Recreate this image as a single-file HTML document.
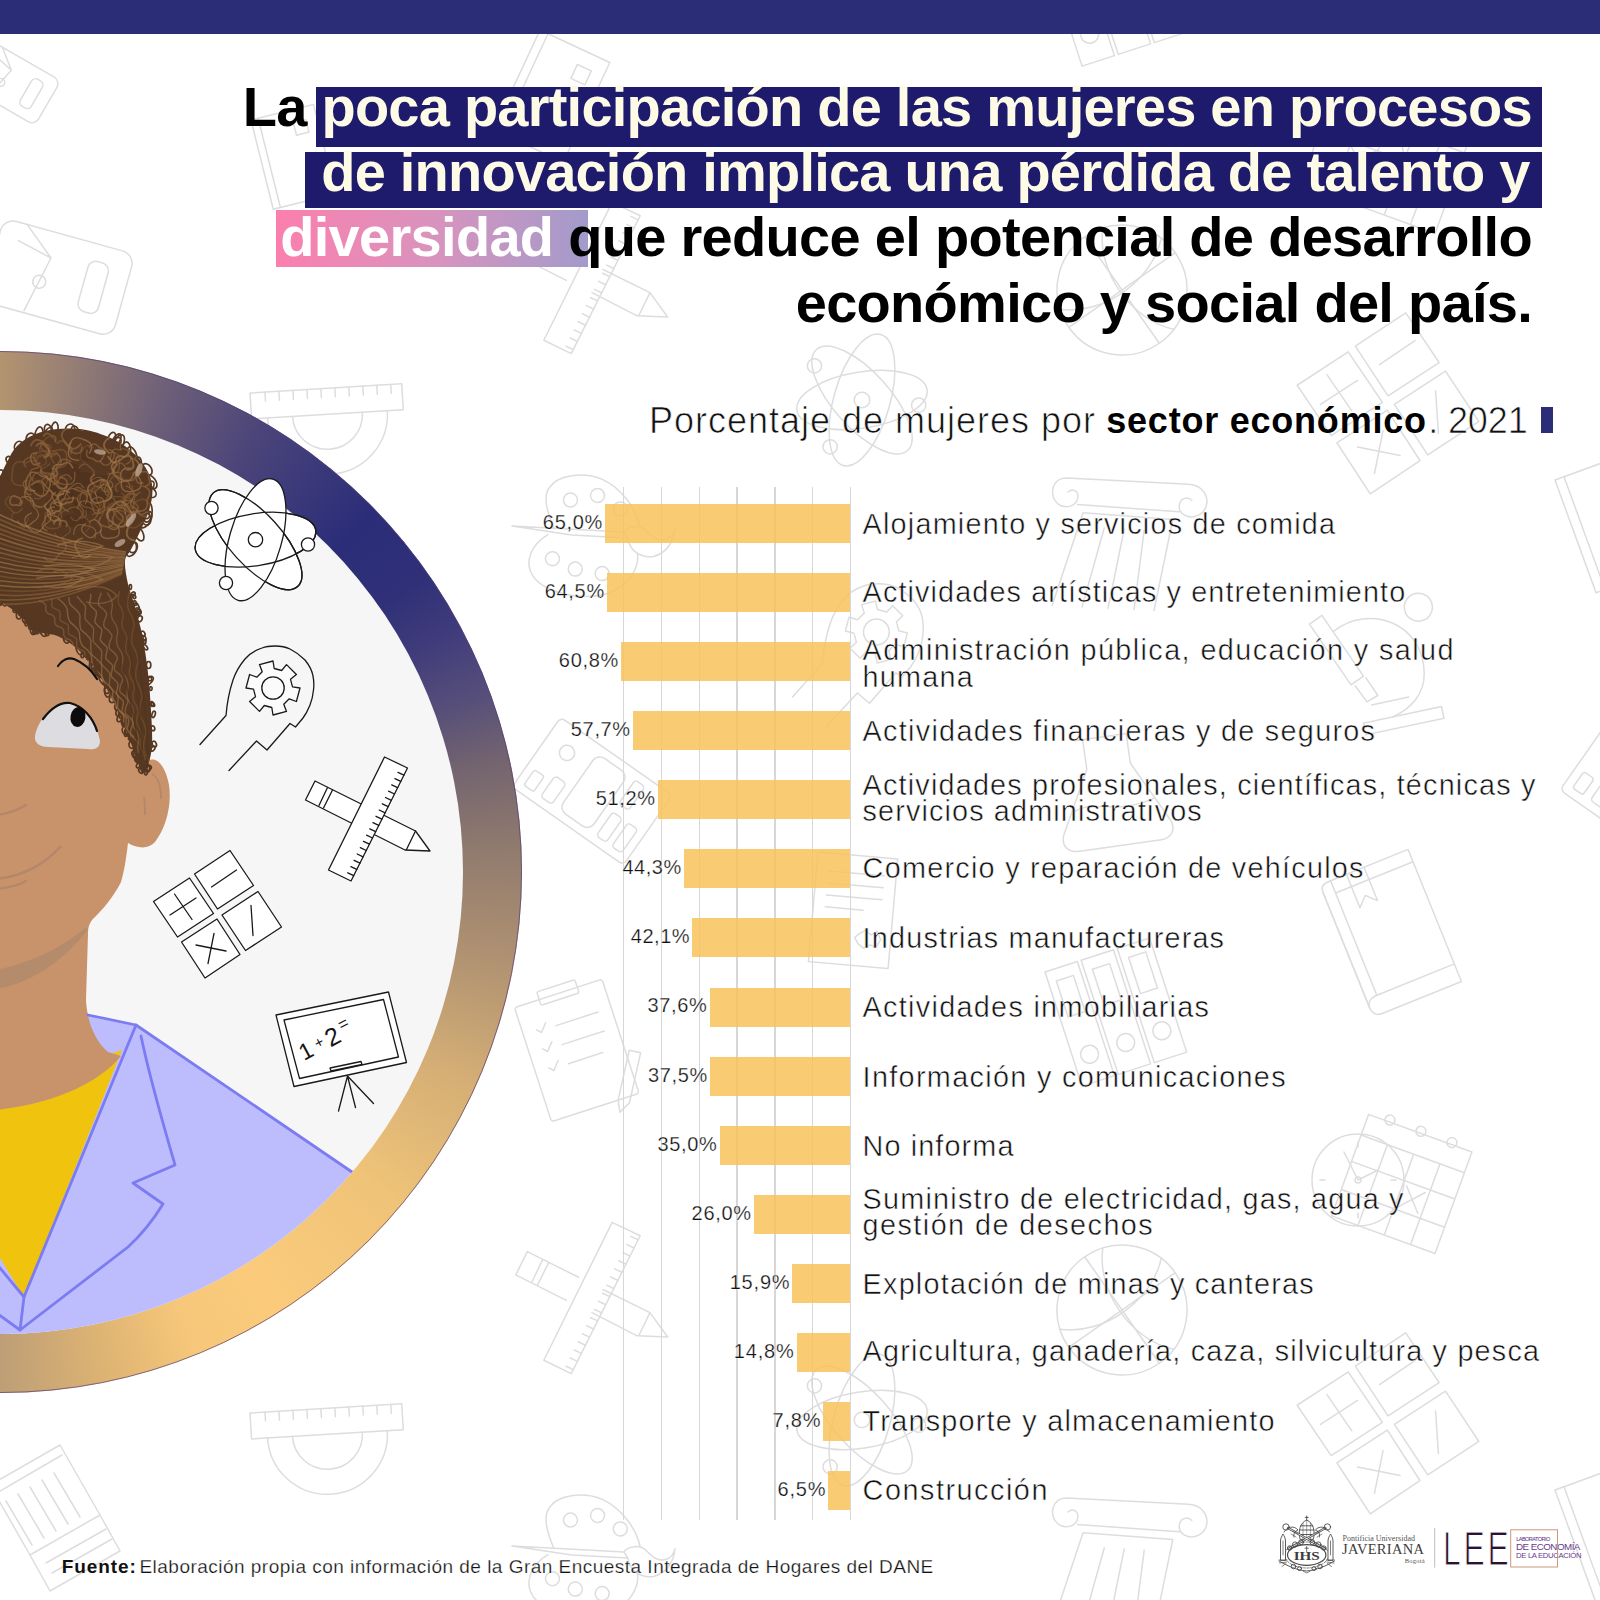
<!DOCTYPE html>
<html lang="es"><head><meta charset="utf-8"><title>Porcentaje de mujeres por sector económico</title>
<style>
html,body{margin:0;padding:0;background:#fff}
body{width:1600px;height:1600px;position:relative;overflow:hidden;font-family:"Liberation Sans", sans-serif}
.abs{position:absolute}
.tx{position:absolute;white-space:nowrap;margin:0}
.bar{position:absolute;height:39px;background:#f8c25b;opacity:.85}
.grid{position:absolute;top:487px;height:1033px;width:1.5px;background:#d7d7d9}
#topbar{position:absolute;left:0;top:0;width:1600px;height:34px;background:#2b2d77}
.hl{position:absolute;background:#1e1a6c}
</style></head><body>
<svg class="abs" style="left:0;top:0" width="1600" height="1600" viewBox="0 0 1600 1600"><g fill="none" stroke="#dddddf" stroke-width="1.5" stroke-linejoin="round" stroke-linecap="round">
<g transform="translate(250 393) rotate(-3.5) scale(1.0)" stroke-width="1.50"><path d="M0,0 H152 V26 H0 Z"/><path d="M15.0,0.0 l0.0,9.0 M29.0,0.0 l0.0,9.0 M43.0,0.0 l0.0,9.0 M57.0,0.0 l0.0,9.0 M71.0,0.0 l0.0,9.0 M85.0,0.0 l0.0,9.0 M99.0,0.0 l0.0,9.0 M113.0,0.0 l0.0,9.0 M127.0,0.0 l0.0,9.0 M141.0,0.0 l0.0,9.0"/><path d="M16,26 A60,60 0 0 0 136,26 M41,26 A35,35 0 0 0 111,26"/></g>
<g transform="translate(592 278) rotate(0) scale(1.22)" stroke-width="1.23"><g transform="translate(-368 -819)"><path d="M315,781 L357,802 M377,812 L415.5,831 L430,851 L405,850 L368,831 M347,821 L305.5,800 L315,781"/><path d="M327.5,787.5 L319,805.5 M332.5,790 L323.5,808 M415.5,831 L406.5,849.5"/><path d="M384.5,757 L407.5,768 L351,881 L328.5,870 Z"/><path d="M405.8,771.3 l-5.9,-2.8 M402.5,778.0 l-5.9,-2.8 M399.2,784.6 l-5.9,-2.8 M395.9,791.3 l-5.9,-2.8 M392.5,797.9 l-5.9,-2.8 M389.2,804.6 l-5.9,-2.8 M385.9,811.2 l-5.9,-2.8 M382.6,817.9 l-5.9,-2.8 M379.2,824.5 l-5.9,-2.8 M375.9,831.1 l-5.9,-2.8 M372.6,837.8 l-5.9,-2.8 M369.3,844.4 l-5.9,-2.8 M366.0,851.1 l-5.9,-2.8 M362.6,857.7 l-5.9,-2.8 M359.3,864.4 l-5.9,-2.8 M356.0,871.0 l-5.9,-2.8 M352.7,877.7 l-5.9,-2.8"/></g></g>
<g transform="translate(512 526) rotate(1) scale(1.0)" stroke-width="1.50"><path d="M42,2 C36,-12 30,-28 36,-38 C44,-52 70,-56 90,-48 C108,-40 124,-20 128,-2"/>
<path d="M36,8 C20,18 12,36 22,50 C34,66 70,74 96,66 C118,58 128,40 126,26"/>
<circle cx="58" cy="-27" r="7"/><circle cx="85" cy="-32" r="7"/><circle cx="108" cy="-19" r="7"/>
<circle cx="41" cy="32" r="7"/><circle cx="64" cy="42" r="7"/><circle cx="91" cy="46" r="7"/>
<path d="M0,0 L112,4 L116,10 L60,8 Z"/><path d="M112,4 C116,-2 128,-4 134,2 C140,8 146,14 156,10 C160,8 162,4 163,0 C162,12 156,24 142,28 C128,30 118,22 116,10"/></g>
<g transform="translate(862 400) rotate(0) scale(1.08)" stroke-width="1.39"><ellipse rx="61" ry="26" transform="rotate(-9)"/><ellipse rx="63" ry="26" transform="rotate(48)"/><ellipse rx="63" ry="26" transform="rotate(106)"/><circle r="7.2"/><circle cx="-44" cy="-31.7" r="6.6"/><circle cx="52.5" cy="4.8" r="6.6"/><circle cx="-29.5" cy="43.3" r="6.6"/></g>
<g transform="translate(1388 403) rotate(0) scale(1.42)" stroke-width="1.06"><g transform="translate(-217.5 -914)"><path d="M153.5,901.5 L189.5,878 L213.5,913.5 L177.5,937 Z M194.5,874 L230,850.5 L253.5,885.5 L217.5,909 Z M181.5,942 L217,919 L240,954.5 L205,978 Z M222,915 L258,891.5 L281.5,927 L245.5,950.5 Z"/><path d="M170,915 L196,898 M174.5,894 L192,919.5 M211.5,887 L236.5,870 M196,945 L226,951 M214,933.5 L208,963.5 M251,905.5 L253,935.5"/></g></g>
<g transform="translate(1122 290) rotate(10) scale(1.0)" stroke-width="1.50"><circle r="65"/><path d="M-46,-46 L46,46 M-46,46 L46,-46"/><path d="M-20,-62 C10,-30 10,30 -20,62 M62,-20 C30,10 -30,10 -62,-20" transform="rotate(45)"/></g>
<g transform="translate(1050 455) rotate(3) scale(1.0)" stroke-width="1.50"><path d="M18,22 C4,22 0,40 10,48 C18,54 30,50 30,40 C30,34 24,32 20,36"/><path d="M18,22 H140 C160,22 165,44 152,52 C142,58 130,52 132,42 C133,36 140,34 144,38"/><path d="M30,48 L132,50"/>
<path d="M36,56 L126,58 L112,150 M36,56 L10,150"/><path d="M58,70 L40,150 M78,70 L66,150 M98,70 L92,150"/></g>
<g transform="translate(1045 -48) rotate(-18) scale(1.0)" stroke-width="1.50"><path d="M0,0 H34 V120 H0 Z M38,0 H72 V120 H38 Z M76,0 H110 V120 H76 Z"/><path d="M8,12 H26 V50 H8 Z M46,12 H64 V50 H46 Z M84,12 H102 V50 H84 Z"/><circle cx="17" cy="92" r="9"/><circle cx="55" cy="92" r="9"/><circle cx="93" cy="92" r="9"/></g>
<g transform="translate(1310 85) rotate(0) scale(1.0)" stroke-width="1.50"><g transform="translate(48 75)"><circle r="46"/><path d="M0,0 L-14,-28 M0,0 L20,-10"/><circle r="3"/><path d="M-38,0 h5 M38,0 h-5 M0,38 v-5 M0,-38 v5"/></g>
<g transform="translate(62 0) rotate(20)"><path d="M0,10 H110 V118 H0 Z M0,32 H110 M0,60 H110 M0,90 H110 M28,32 V118 M56,32 V118 M84,32 V118"/><path d="M60,64 L80,86 M80,64 L60,86"/><circle cx="22" cy="8" r="5"/><circle cx="55" cy="8" r="5"/><circle cx="88" cy="8" r="5"/></g></g>
<g transform="translate(250 1413) rotate(-3.5) scale(1.0)" stroke-width="1.50"><path d="M0,0 H152 V26 H0 Z"/><path d="M15.0,0.0 l0.0,9.0 M29.0,0.0 l0.0,9.0 M43.0,0.0 l0.0,9.0 M57.0,0.0 l0.0,9.0 M71.0,0.0 l0.0,9.0 M85.0,0.0 l0.0,9.0 M99.0,0.0 l0.0,9.0 M113.0,0.0 l0.0,9.0 M127.0,0.0 l0.0,9.0 M141.0,0.0 l0.0,9.0"/><path d="M16,26 A60,60 0 0 0 136,26 M41,26 A35,35 0 0 0 111,26"/></g>
<g transform="translate(592 1298) rotate(0) scale(1.22)" stroke-width="1.23"><g transform="translate(-368 -819)"><path d="M315,781 L357,802 M377,812 L415.5,831 L430,851 L405,850 L368,831 M347,821 L305.5,800 L315,781"/><path d="M327.5,787.5 L319,805.5 M332.5,790 L323.5,808 M415.5,831 L406.5,849.5"/><path d="M384.5,757 L407.5,768 L351,881 L328.5,870 Z"/><path d="M405.8,771.3 l-5.9,-2.8 M402.5,778.0 l-5.9,-2.8 M399.2,784.6 l-5.9,-2.8 M395.9,791.3 l-5.9,-2.8 M392.5,797.9 l-5.9,-2.8 M389.2,804.6 l-5.9,-2.8 M385.9,811.2 l-5.9,-2.8 M382.6,817.9 l-5.9,-2.8 M379.2,824.5 l-5.9,-2.8 M375.9,831.1 l-5.9,-2.8 M372.6,837.8 l-5.9,-2.8 M369.3,844.4 l-5.9,-2.8 M366.0,851.1 l-5.9,-2.8 M362.6,857.7 l-5.9,-2.8 M359.3,864.4 l-5.9,-2.8 M356.0,871.0 l-5.9,-2.8 M352.7,877.7 l-5.9,-2.8"/></g></g>
<g transform="translate(512 1546) rotate(1) scale(1.0)" stroke-width="1.50"><path d="M42,2 C36,-12 30,-28 36,-38 C44,-52 70,-56 90,-48 C108,-40 124,-20 128,-2"/>
<path d="M36,8 C20,18 12,36 22,50 C34,66 70,74 96,66 C118,58 128,40 126,26"/>
<circle cx="58" cy="-27" r="7"/><circle cx="85" cy="-32" r="7"/><circle cx="108" cy="-19" r="7"/>
<circle cx="41" cy="32" r="7"/><circle cx="64" cy="42" r="7"/><circle cx="91" cy="46" r="7"/>
<path d="M0,0 L112,4 L116,10 L60,8 Z"/><path d="M112,4 C116,-2 128,-4 134,2 C140,8 146,14 156,10 C160,8 162,4 163,0 C162,12 156,24 142,28 C128,30 118,22 116,10"/></g>
<g transform="translate(862 1420) rotate(0) scale(1.08)" stroke-width="1.39"><ellipse rx="61" ry="26" transform="rotate(-9)"/><ellipse rx="63" ry="26" transform="rotate(48)"/><ellipse rx="63" ry="26" transform="rotate(106)"/><circle r="7.2"/><circle cx="-44" cy="-31.7" r="6.6"/><circle cx="52.5" cy="4.8" r="6.6"/><circle cx="-29.5" cy="43.3" r="6.6"/></g>
<g transform="translate(1388 1423) rotate(0) scale(1.42)" stroke-width="1.06"><g transform="translate(-217.5 -914)"><path d="M153.5,901.5 L189.5,878 L213.5,913.5 L177.5,937 Z M194.5,874 L230,850.5 L253.5,885.5 L217.5,909 Z M181.5,942 L217,919 L240,954.5 L205,978 Z M222,915 L258,891.5 L281.5,927 L245.5,950.5 Z"/><path d="M170,915 L196,898 M174.5,894 L192,919.5 M211.5,887 L236.5,870 M196,945 L226,951 M214,933.5 L208,963.5 M251,905.5 L253,935.5"/></g></g>
<g transform="translate(1122 1310) rotate(10) scale(1.0)" stroke-width="1.50"><circle r="65"/><path d="M-46,-46 L46,46 M-46,46 L46,-46"/><path d="M-20,-62 C10,-30 10,30 -20,62 M62,-20 C30,10 -30,10 -62,-20" transform="rotate(45)"/></g>
<g transform="translate(1050 1475) rotate(3) scale(1.0)" stroke-width="1.50"><path d="M18,22 C4,22 0,40 10,48 C18,54 30,50 30,40 C30,34 24,32 20,36"/><path d="M18,22 H140 C160,22 165,44 152,52 C142,58 130,52 132,42 C133,36 140,34 144,38"/><path d="M30,48 L132,50"/>
<path d="M36,56 L126,58 L112,150 M36,56 L10,150"/><path d="M58,70 L40,150 M78,70 L66,150 M98,70 L92,150"/></g>
<g transform="translate(1045 972) rotate(-18) scale(1.0)" stroke-width="1.50"><path d="M0,0 H34 V120 H0 Z M38,0 H72 V120 H38 Z M76,0 H110 V120 H76 Z"/><path d="M8,12 H26 V50 H8 Z M46,12 H64 V50 H46 Z M84,12 H102 V50 H84 Z"/><circle cx="17" cy="92" r="9"/><circle cx="55" cy="92" r="9"/><circle cx="93" cy="92" r="9"/></g>
<g transform="translate(1310 1105) rotate(0) scale(1.0)" stroke-width="1.50"><g transform="translate(48 75)"><circle r="46"/><path d="M0,0 L-14,-28 M0,0 L20,-10"/><circle r="3"/><path d="M-38,0 h5 M38,0 h-5 M0,38 v-5 M0,-38 v5"/></g>
<g transform="translate(62 0) rotate(20)"><path d="M0,10 H110 V118 H0 Z M0,32 H110 M0,60 H110 M0,90 H110 M28,32 V118 M56,32 V118 M84,32 V118"/><path d="M60,64 L80,86 M80,64 L60,86"/><circle cx="22" cy="8" r="5"/><circle cx="55" cy="8" r="5"/><circle cx="88" cy="8" r="5"/></g></g>
<g transform="translate(858 655) rotate(0) scale(1.15)" stroke-width="1.30"><g transform="translate(-257 -708)"><path d="M200,744.5 L226,715.5 C227,703 229,692 233,680 C236,671 240,665 245,659 C250,653 256,650 262,648 C267,646 271,646 275,646 C281,646 286,647 290,649 C296,652 301,656 305,660 C309,665 312,670 313,676 C314,681 314,686 313.5,690 C313,695 312,700 310,705 C308,710 306,714 303,718 L295.5,727 L290,723.5 L267,750 L256.5,741 L229,770.5"/><path d="M262.4,671.6 L260.2,664.2 L272.2,661.0 L274.0,668.5 L281.9,670.6 L287.2,665.1 L295.9,673.8 L290.4,679.1 L292.5,687.0 L300.0,688.8 L296.8,700.8 L289.4,698.6 L283.6,704.4 L285.8,711.8 L273.8,715.0 L272.0,707.5 L264.1,705.4 L258.8,710.9 L250.1,702.2 L255.6,696.9 L253.5,689.0 L246.0,687.2 L249.2,675.2 L256.6,677.4Z"/><circle cx="273" cy="688" r="11.2"/></g></g>
<g transform="translate(1300 618) rotate(-12) scale(1.0)" stroke-width="1.50"><path d="M8,8 L22,2 L50,70 L36,76 Z"/><path d="M40,78 L48,96 L60,92 L52,72"/><path d="M30,20 C70,0 120,30 110,80 C106,100 90,112 70,116"/><circle cx="118" cy="14" r="14"/><path d="M40,116 H120 V128 H40 Z"/><path d="M52,100 L90,100"/></g>
<g transform="translate(1045 745) rotate(-8) scale(1.0)" stroke-width="1.50"><path d="M30,0 L90,0 M38,0 L38,30 L6,92 C2,102 8,110 18,110 L102,110 C112,110 118,102 114,92 L82,30 L82,0"/><path d="M20,70 C40,60 60,80 100,68"/></g>
<g transform="translate(1320 885) rotate(-22) scale(0.95)" stroke-width="1.58"><path d="M0,8 C0,2 4,0 10,0 H100 V130 H10 C4,130 0,134 0,140 Z"/><path d="M0,140 C0,146 4,150 10,150 H100 V130"/><path d="M12,0 V130"/><path d="M0,8 V140"/><path d="M30,0 V38 L40,28 L50,38 V0"/><path d="M12,14 H100"/></g>
<g transform="translate(512 787) rotate(-55) scale(0.85)" stroke-width="1.76"><rect x="0" y="0" width="100" height="160" rx="6"/><rect x="10" y="10" width="22" height="14" rx="3"/><rect x="10" y="34" width="30" height="16" rx="4"/><rect x="10" y="60" width="80" height="44" rx="10"/><rect x="10" y="114" width="34" height="14" rx="4"/><rect x="56" y="114" width="34" height="14" rx="4"/><rect x="10" y="136" width="34" height="14" rx="4"/><circle cx="70" cy="30" r="9"/></g>
<g transform="translate(512 1000) rotate(-18) scale(1.0)" stroke-width="1.50"><rect x="0" y="8" width="92" height="120" rx="3"/><rect x="26" y="0" width="40" height="14" rx="2"/><path d="M14,36 l4,4 l7,-8 M14,56 l4,4 l7,-8 M14,76 l4,4 l7,-8 M34,38 H78 M34,58 H78 M34,78 H70"/><path d="M70,128 L96,84 L106,90 L80,134 L68,140 Z"/></g>
<g transform="translate(4 218) rotate(15.5) scale(1.0)" stroke-width="1.50"><rect x="0" y="0" width="136" height="86" rx="13"/><path d="M24,0 L56,26 L44,84 M56,26 L20,18"/><circle cx="51" cy="52" r="6.5"/><rect x="94" y="17" width="21" height="52" rx="8"/></g>
<g transform="translate(251 120) rotate(-14) scale(0.92)" stroke-width="1.63"><rect x="0" y="0" width="70" height="100"/><rect x="44" y="14" width="14" height="14"/><path d="M8,0 V100"/></g>
<g transform="translate(1555 480) rotate(-20) scale(1.2)" stroke-width="1.25"><rect x="0" y="0" width="70" height="100"/><rect x="44" y="14" width="14" height="14"/><path d="M8,0 V100"/></g>
<g transform="translate(1555 1490) rotate(-20) scale(1.2)" stroke-width="1.25"><rect x="0" y="0" width="70" height="100"/><rect x="44" y="14" width="14" height="14"/><path d="M8,0 V100"/></g>
<g transform="translate(-10 1445) rotate(0) scale(1.0)" stroke-width="1.50"><path d="M0,40 L70,0 L110,70 L40,110 Z"/><path d="M10,46 L72,10 M16,56 L42,100 M28,49 L54,93 M40,42 L66,86 M52,35 L78,79 M64,28 L90,72"/><path d="M40,110 L60,146 L130,106 L110,70"/><path d="M56,118 L116,84 M62,128 L122,94"/></g>
<g transform="translate(818 852) rotate(5) scale(1.0)" stroke-width="1.50"><path d="M0,0 H80 V110 H0 Z"/><path d="M12,18 H68 M12,30 H68 M12,42 H68 M12,54 H50"/><path d="M48,78 l6,-4 l6,4 l6,-4 l4,8 l-4,8 l-6,-2 l-6,4 l-6,-4 l-4,-6 Z"/></g>
<g transform="translate(1560 790) rotate(-55) scale(0.9)" stroke-width="1.67"><rect x="0" y="0" width="100" height="160" rx="6"/><rect x="10" y="10" width="22" height="14" rx="3"/><rect x="10" y="34" width="30" height="16" rx="4"/><rect x="10" y="60" width="80" height="44" rx="10"/><rect x="10" y="114" width="34" height="14" rx="4"/><rect x="56" y="114" width="34" height="14" rx="4"/><rect x="10" y="136" width="34" height="14" rx="4"/><circle cx="70" cy="30" r="9"/></g>
<g transform="translate(-10 40) rotate(30) scale(0.6)" stroke-width="2.50"><rect x="0" y="0" width="136" height="86" rx="13"/><path d="M24,0 L56,26 L44,84 M56,26 L20,18"/><circle cx="51" cy="52" r="6.5"/><rect x="94" y="17" width="21" height="52" rx="8"/></g>
<g transform="translate(540 30) rotate(25) scale(1.1)" stroke-width="1.36"><rect x="0" y="0" width="70" height="100"/><rect x="44" y="14" width="14" height="14"/><path d="M8,0 V100"/></g>
</g></svg>
<div id="topbar"></div>
<div class="abs" style="left:-520.0px;top:351.0px;width:1042.0px;height:1042.0px;border-radius:50%;background:conic-gradient(from 0deg at 50% 50%,#b39470 0deg,#957e74 8deg,#6d5f78 19deg,#4c4579 30deg,#3b397a 38deg,#2b2d78 46deg,#2f3078 55deg,#403c7b 62deg,#574f7a 70deg,#72636f 77deg,#8f7a6e 87deg,#b09272 100deg,#d4ae75 114deg,#efc378 130deg,#fbcb7b 148deg,#f6c77a 158deg,#deb473 168deg,#be9e76 180deg,#b39470 360deg)"></div>
<svg class="abs" style="left:0;top:0" width="560" height="1600" viewBox="0 0 560 1600">
<defs>
<radialGradient id="gNavy" gradientUnits="userSpaceOnUse" cx="385" cy="545" r="470">
<stop offset="0" stop-color="#2a2c78"/><stop offset=".2" stop-color="#2a2c78"/><stop offset=".45" stop-color="#2a2c78" stop-opacity=".72"/><stop offset=".75" stop-color="#2a2c78" stop-opacity=".3"/><stop offset="1" stop-color="#2a2c78" stop-opacity="0"/>
</radialGradient>
<radialGradient id="gGold" gradientUnits="userSpaceOnUse" cx="290" cy="1330" r="380">
<stop offset="0" stop-color="#fdcd7c"/><stop offset=".3" stop-color="#fccb7b"/><stop offset=".65" stop-color="#e3b777" stop-opacity=".8"/><stop offset="1" stop-color="#c9a374" stop-opacity="0"/>
</radialGradient>
<clipPath id="inner"><circle cx="1.0" cy="872.0" r="462.0"/></clipPath>
<clipPath id="hairclip"><path d="M-6.0,480.0 C-5.0,479.3 -2.2,479.0 0.0,476.0 C2.2,473.0 4.2,467.0 7.0,462.0 C9.8,457.0 12.4,450.6 17.0,446.0 C21.6,441.4 27.8,437.3 34.5,434.5 C41.2,431.7 48.9,429.8 57.5,429.0 C66.1,428.2 76.4,428.2 86.0,430.0 C95.6,431.8 106.8,435.9 115.0,440.0 C123.2,444.1 129.5,449.3 135.0,454.6 C140.5,459.9 145.1,466.3 148.0,472.0 C150.9,477.7 152.2,482.8 152.4,489.0 C152.7,495.2 151.4,502.3 149.5,509.0 C147.6,515.7 144.1,522.6 141.0,529.4 C137.9,536.1 133.7,544.2 131.0,549.5 C128.3,554.8 125.5,555.2 125.0,561.0 C124.5,566.8 126.3,576.3 128.0,584.0 C129.7,591.7 132.6,598.3 135.0,607.0 C137.4,615.7 140.2,625.0 142.4,636.0 C144.6,647.0 146.6,660.6 148.0,673.0 C149.4,685.4 150.3,698.6 151.0,710.6 C151.7,722.6 152.5,735.9 152.0,745.0 C151.5,754.1 149.5,760.3 148.0,765.0 C146.5,769.7 144.2,772.0 143.0,773.0 C141.8,774.0 142.3,774.2 141.0,771.0 C139.7,767.8 136.9,759.3 135.0,754.0 C133.1,748.7 131.7,745.3 129.4,739.0 C127.1,732.7 123.9,722.7 121.0,716.0 C118.1,709.3 114.7,704.2 112.0,699.0 C109.3,693.8 107.8,690.2 105.0,685.0 C102.2,679.8 98.2,672.2 95.0,667.5 C91.8,662.8 89.8,660.8 86.0,657.0 C82.2,653.2 76.8,648.0 72.0,644.5 C67.2,641.0 62.3,637.9 57.5,636.0 C52.7,634.1 47.3,634.0 43.0,633.0 C38.7,632.0 34.4,631.9 31.6,630.0 C28.8,628.1 28.4,624.3 26.0,621.5 C23.6,618.7 21.3,616.4 17.0,613.0 C12.7,609.6 3.8,603.5 0.0,601.0 C-3.8,598.5 -5.0,598.5 -6.0,598.0 Z"/></clipPath>
</defs>
<g id="ring">
<circle cx="1.0" cy="872.0" r="520.5" fill="none" stroke="#5a3f78" stroke-width="1" opacity=".7"/>
<circle cx="1.0" cy="872.0" r="462.0" fill="#f6f6f6"/>
</g>
<g clip-path="url(#inner)">
<!-- coat -->
<path d="M88,1015 L136,1025 L352,1172 L420,1300 L300,1420 L-10,1420 L-10,1100 Z" fill="#bdbdfd"/>
<!-- shirt -->
<path d="M-5,1095 L122,1050 L24,1297 L-5,1250 Z" fill="#f0c30f"/>
<!-- skin: face + neck -->
<path d="M-5,590 L120,590 L146,690 L150,760 C158,757 166,768 169,785 C172,805 166,828 155,842 C149,849 138,849 128,843 C126,860 124,872 121,882 C114,896 104,908 96,916 C90,921 88,926 88,934 L86,1000 C87,1020 94,1040 108,1052 L121,1056 C100,1082 55,1104 -5,1110 Z" fill="#c8936b"/>
<!-- chin shadow -->
<path d="M-5,970 C28,964 60,949 87,927 L87.5,930 C66,958 32,984 -5,989 Z" fill="#b48b6b"/>
<path d="M-5,879 C22,877 45,864 60,847" stroke="#b38769" stroke-width="2.4" fill="none" stroke-linecap="round"/>
<path d="M-5,889 C10,888 19,885 26,881" stroke="#b38769" stroke-width="2.2" fill="none" stroke-linecap="round"/>
<path d="M-5,815 C8,814 18,810 26,805" stroke="#b38769" stroke-width="2.4" fill="none" stroke-linecap="round"/>
<path d="M152,774 C158,777 161,787 161,799" stroke="#b38769" stroke-width="1.8" fill="none"/>
<path d="M144,797 C145,803 145,809 145,815" stroke="#b38769" stroke-width="1.8" fill="none"/>
<!-- coat outlines -->
<g stroke="#7b7bf2" stroke-width="2.8" fill="none" stroke-linejoin="round" stroke-linecap="round">
<path d="M88,1015 L136,1025 L352,1172"/>
<path d="M136,1025 L24,1297 L-5,1262"/>
<path d="M141,1036 C150,1080 165,1130 175,1165 L133,1183 L163,1204 C152,1222 140,1236 128,1247 L20,1330 L24,1297"/>
<path d="M20,1330 L-5,1312"/>
</g>
<!-- hair -->
<path d="M-6.0,480.0 C-5.0,479.3 -2.2,479.0 0.0,476.0 C2.2,473.0 4.2,467.0 7.0,462.0 C9.8,457.0 12.4,450.6 17.0,446.0 C21.6,441.4 27.8,437.3 34.5,434.5 C41.2,431.7 48.9,429.8 57.5,429.0 C66.1,428.2 76.4,428.2 86.0,430.0 C95.6,431.8 106.8,435.9 115.0,440.0 C123.2,444.1 129.5,449.3 135.0,454.6 C140.5,459.9 145.1,466.3 148.0,472.0 C150.9,477.7 152.2,482.8 152.4,489.0 C152.7,495.2 151.4,502.3 149.5,509.0 C147.6,515.7 144.1,522.6 141.0,529.4 C137.9,536.1 133.7,544.2 131.0,549.5 C128.3,554.8 125.5,555.2 125.0,561.0 C124.5,566.8 126.3,576.3 128.0,584.0 C129.7,591.7 132.6,598.3 135.0,607.0 C137.4,615.7 140.2,625.0 142.4,636.0 C144.6,647.0 146.6,660.6 148.0,673.0 C149.4,685.4 150.3,698.6 151.0,710.6 C151.7,722.6 152.5,735.9 152.0,745.0 C151.5,754.1 149.5,760.3 148.0,765.0 C146.5,769.7 144.2,772.0 143.0,773.0 C141.8,774.0 142.3,774.2 141.0,771.0 C139.7,767.8 136.9,759.3 135.0,754.0 C133.1,748.7 131.7,745.3 129.4,739.0 C127.1,732.7 123.9,722.7 121.0,716.0 C118.1,709.3 114.7,704.2 112.0,699.0 C109.3,693.8 107.8,690.2 105.0,685.0 C102.2,679.8 98.2,672.2 95.0,667.5 C91.8,662.8 89.8,660.8 86.0,657.0 C82.2,653.2 76.8,648.0 72.0,644.5 C67.2,641.0 62.3,637.9 57.5,636.0 C52.7,634.1 47.3,634.0 43.0,633.0 C38.7,632.0 34.4,631.9 31.6,630.0 C28.8,628.1 28.4,624.3 26.0,621.5 C23.6,618.7 21.3,616.4 17.0,613.0 C12.7,609.6 3.8,603.5 0.0,601.0 C-3.8,598.5 -5.0,598.5 -6.0,598.0 Z" fill="#563822"/>
<g fill="none" stroke="#563822" stroke-width="1.7"><ellipse cx="111.9" cy="699.3" rx="2.6" ry="3.3" transform="rotate(3 111.9 699.3)"/><ellipse cx="106.9" cy="690.5" rx="2.4" ry="2.9" transform="rotate(-5 106.9 690.5)"/><ellipse cx="134.9" cy="755.4" rx="2.2" ry="4.5" transform="rotate(-30 134.9 755.4)"/><ellipse cx="124.7" cy="720.0" rx="3.1" ry="5.5" transform="rotate(-8 124.7 720.0)"/><ellipse cx="-1.3" cy="601.2" rx="3.0" ry="4.4" transform="rotate(-28 -1.3 601.2)"/><ellipse cx="131.9" cy="744.3" rx="2.9" ry="4.0" transform="rotate(7 131.9 744.3)"/><ellipse cx="66.4" cy="640.2" rx="2.4" ry="3.1" transform="rotate(-35 66.4 640.2)"/><ellipse cx="126.4" cy="723.8" rx="2.2" ry="3.4" transform="rotate(7 126.4 723.8)"/><ellipse cx="97.9" cy="671.6" rx="2.9" ry="5.4" transform="rotate(-20 97.9 671.6)"/><ellipse cx="79.4" cy="649.0" rx="3.0" ry="5.8" transform="rotate(-17 79.4 649.0)"/><ellipse cx="-1.9" cy="600.5" rx="2.2" ry="4.3" transform="rotate(-28 -1.9 600.5)"/><ellipse cx="92.0" cy="665.3" rx="2.6" ry="5.2" transform="rotate(6 92.0 665.3)"/><ellipse cx="19.1" cy="614.2" rx="2.7" ry="4.8" transform="rotate(6 19.1 614.2)"/><ellipse cx="99.9" cy="669.6" rx="3.1" ry="5.2" transform="rotate(13 99.9 669.6)"/><ellipse cx="138.5" cy="756.5" rx="2.6" ry="5.7" transform="rotate(26 138.5 756.5)"/><ellipse cx="117.3" cy="707.0" rx="2.6" ry="3.2" transform="rotate(-3 117.3 707.0)"/><ellipse cx="126.9" cy="733.3" rx="1.6" ry="3.1" transform="rotate(-30 126.9 733.3)"/><ellipse cx="121.5" cy="714.8" rx="3.0" ry="3.8" transform="rotate(-4 121.5 714.8)"/><ellipse cx="85.1" cy="651.6" rx="2.9" ry="6.0" transform="rotate(-18 85.1 651.6)"/><ellipse cx="102.7" cy="679.3" rx="3.0" ry="6.5" transform="rotate(-28 102.7 679.3)"/><ellipse cx="126.7" cy="731.3" rx="1.9" ry="3.2" transform="rotate(7 126.7 731.3)"/><ellipse cx="118.1" cy="712.5" rx="2.2" ry="3.5" transform="rotate(5 118.1 712.5)"/><ellipse cx="5.1" cy="601.6" rx="2.4" ry="4.3" transform="rotate(14 5.1 601.6)"/><ellipse cx="140.0" cy="757.6" rx="2.8" ry="5.9" transform="rotate(24 140.0 757.6)"/><ellipse cx="105.6" cy="684.0" rx="1.7" ry="3.1" transform="rotate(-35 105.6 684.0)"/><ellipse cx="135.7" cy="755.8" rx="1.8" ry="2.7" transform="rotate(-36 135.7 755.8)"/><ellipse cx="140.8" cy="771.0" rx="1.7" ry="2.6" transform="rotate(-38 140.8 771.0)"/><ellipse cx="20.3" cy="613.3" rx="1.8" ry="2.5" transform="rotate(-12 20.3 613.3)"/><ellipse cx="107.4" cy="690.7" rx="2.9" ry="6.5" transform="rotate(-3 107.4 690.7)"/><ellipse cx="93.0" cy="666.1" rx="1.7" ry="2.6" transform="rotate(-19 93.0 666.1)"/><ellipse cx="26.5" cy="622.5" rx="1.5" ry="3.3" transform="rotate(2 26.5 622.5)"/><ellipse cx="130.6" cy="737.4" rx="1.5" ry="2.7" transform="rotate(38 130.6 737.4)"/><ellipse cx="22.5" cy="614.8" rx="1.9" ry="3.0" transform="rotate(-27 22.5 614.8)"/><ellipse cx="36.5" cy="629.6" rx="2.8" ry="4.3" transform="rotate(-22 36.5 629.6)"/><ellipse cx="32.2" cy="623.7" rx="2.9" ry="5.9" transform="rotate(25 32.2 623.7)"/><ellipse cx="43.5" cy="633.0" rx="2.4" ry="3.7" transform="rotate(-38 43.5 633.0)"/><ellipse cx="139.1" cy="764.6" rx="1.9" ry="3.7" transform="rotate(37 139.1 764.6)"/><ellipse cx="101.4" cy="671.2" rx="3.2" ry="6.9" transform="rotate(-11 101.4 671.2)"/><ellipse cx="123.1" cy="721.3" rx="1.8" ry="2.6" transform="rotate(10 123.1 721.3)"/><ellipse cx="15.9" cy="608.3" rx="2.3" ry="4.3" transform="rotate(24 15.9 608.3)"/><ellipse cx="136.4" cy="751.1" rx="3.0" ry="6.0" transform="rotate(20 136.4 751.1)"/><ellipse cx="94.3" cy="666.8" rx="2.8" ry="4.4" transform="rotate(24 94.3 666.8)"/><ellipse cx="0.6" cy="600.2" rx="2.2" ry="4.7" transform="rotate(18 0.6 600.2)"/><ellipse cx="126.8" cy="732.8" rx="1.8" ry="3.7" transform="rotate(25 126.8 732.8)"/><ellipse cx="132.0" cy="737.0" rx="3.2" ry="5.9" transform="rotate(-12 132.0 737.0)"/><ellipse cx="82.7" cy="654.5" rx="1.5" ry="3.3" transform="rotate(12 82.7 654.5)"/><ellipse cx="89.6" cy="655.5" rx="2.2" ry="4.6" transform="rotate(26 89.6 655.5)"/><ellipse cx="124.0" cy="723.4" rx="2.0" ry="2.9" transform="rotate(7 124.0 723.4)"/><ellipse cx="120.3" cy="712.3" rx="1.7" ry="3.6" transform="rotate(-12 120.3 712.3)"/><ellipse cx="98.5" cy="669.8" rx="3.0" ry="4.9" transform="rotate(33 98.5 669.8)"/><ellipse cx="91.9" cy="661.4" rx="2.4" ry="2.9" transform="rotate(-5 91.9 661.4)"/><ellipse cx="125.1" cy="730.1" rx="2.9" ry="3.9" transform="rotate(-2 125.1 730.1)"/><ellipse cx="47.3" cy="632.1" rx="2.1" ry="3.5" transform="rotate(4 47.3 632.1)"/><ellipse cx="33.0" cy="630.9" rx="2.5" ry="3.6" transform="rotate(-18 33.0 630.9)"/><ellipse cx="36.3" cy="629.7" rx="2.5" ry="4.8" transform="rotate(33 36.3 629.7)"/><ellipse cx="100.4" cy="672.9" rx="2.4" ry="4.0" transform="rotate(15 100.4 672.9)"/><ellipse cx="99.0" cy="671.2" rx="2.3" ry="5.0" transform="rotate(16 99.0 671.2)"/><ellipse cx="21.1" cy="611.7" rx="1.9" ry="3.4" transform="rotate(35 21.1 611.7)"/><ellipse cx="24.7" cy="620.7" rx="1.7" ry="2.8" transform="rotate(-34 24.7 620.7)"/><ellipse cx="120.7" cy="717.0" rx="2.6" ry="5.2" transform="rotate(32 120.7 717.0)"/><ellipse cx="138.4" cy="612.1" rx="2.0" ry="2.7" transform="rotate(31 138.4 612.1)"/><ellipse cx="147.5" cy="768.4" rx="2.3" ry="3.7" transform="rotate(-1 147.5 768.4)"/><ellipse cx="145.9" cy="772.5" rx="1.4" ry="2.3" transform="rotate(1 145.9 772.5)"/><ellipse cx="145.4" cy="647.3" rx="1.6" ry="3.0" transform="rotate(-38 145.4 647.3)"/><ellipse cx="150.9" cy="688.6" rx="1.2" ry="1.9" transform="rotate(10 150.9 688.6)"/><ellipse cx="149.7" cy="680.5" rx="2.4" ry="4.7" transform="rotate(38 149.7 680.5)"/><ellipse cx="135.2" cy="603.0" rx="1.2" ry="2.5" transform="rotate(-18 135.2 603.0)"/><ellipse cx="136.8" cy="607.6" rx="2.3" ry="4.6" transform="rotate(-19 136.8 607.6)"/><ellipse cx="138.5" cy="611.1" rx="1.9" ry="3.6" transform="rotate(-33 138.5 611.1)"/><ellipse cx="133.2" cy="594.0" rx="1.7" ry="2.2" transform="rotate(35 133.2 594.0)"/><ellipse cx="152.7" cy="704.0" rx="1.3" ry="2.7" transform="rotate(-35 152.7 704.0)"/><ellipse cx="153.0" cy="748.6" rx="1.6" ry="2.8" transform="rotate(34 153.0 748.6)"/><ellipse cx="143.0" cy="633.6" rx="1.8" ry="2.6" transform="rotate(-31 143.0 633.6)"/><ellipse cx="137.8" cy="613.7" rx="1.4" ry="2.2" transform="rotate(-16 137.8 613.7)"/><ellipse cx="152.9" cy="728.3" rx="1.8" ry="2.5" transform="rotate(-12 152.9 728.3)"/><ellipse cx="130.3" cy="587.0" rx="1.2" ry="2.4" transform="rotate(4 130.3 587.0)"/><ellipse cx="139.8" cy="618.8" rx="2.3" ry="3.0" transform="rotate(26 139.8 618.8)"/><ellipse cx="148.6" cy="665.0" rx="2.2" ry="3.5" transform="rotate(1 148.6 665.0)"/><ellipse cx="153.6" cy="714.4" rx="1.6" ry="3.3" transform="rotate(17 153.6 714.4)"/><ellipse cx="152.1" cy="704.4" rx="1.6" ry="2.0" transform="rotate(-30 152.1 704.4)"/><ellipse cx="134.0" cy="596.5" rx="1.5" ry="2.1" transform="rotate(-33 134.0 596.5)"/><ellipse cx="154.3" cy="744.1" rx="2.0" ry="3.0" transform="rotate(-21 154.3 744.1)"/><ellipse cx="144.5" cy="638.4" rx="1.4" ry="2.3" transform="rotate(-19 144.5 638.4)"/><ellipse cx="149.0" cy="768.0" rx="1.9" ry="2.7" transform="rotate(37 149.0 768.0)"/><ellipse cx="144.8" cy="641.6" rx="1.2" ry="1.9" transform="rotate(-2 144.8 641.6)"/><ellipse cx="149.8" cy="678.7" rx="1.8" ry="2.2" transform="rotate(-19 149.8 678.7)"/><ellipse cx="8.7" cy="459.6" rx="2.6" ry="3.2" transform="rotate(-16 8.7 459.6)"/><ellipse cx="38.8" cy="434.3" rx="3.8" ry="7.5" transform="rotate(13 38.8 434.3)"/><ellipse cx="149.8" cy="485.7" rx="3.5" ry="5.3" transform="rotate(39 149.8 485.7)"/><ellipse cx="18.7" cy="446.3" rx="4.1" ry="5.1" transform="rotate(27 18.7 446.3)"/><ellipse cx="138.3" cy="532.9" rx="4.3" ry="8.7" transform="rotate(-29 138.3 532.9)"/><ellipse cx="118.7" cy="443.3" rx="4.6" ry="9.2" transform="rotate(26 118.7 443.3)"/><ellipse cx="132.0" cy="454.5" rx="4.2" ry="8.0" transform="rotate(-22 132.0 454.5)"/><ellipse cx="0.2" cy="474.2" rx="3.4" ry="4.4" transform="rotate(27 0.2 474.2)"/><ellipse cx="126.5" cy="449.5" rx="4.1" ry="7.6" transform="rotate(-1 126.5 449.5)"/><ellipse cx="-4.4" cy="480.6" rx="4.4" ry="7.4" transform="rotate(3 -4.4 480.6)"/><ellipse cx="147.1" cy="469.4" rx="4.3" ry="6.3" transform="rotate(-34 147.1 469.4)"/><ellipse cx="48.0" cy="432.5" rx="3.0" ry="5.8" transform="rotate(38 48.0 432.5)"/><ellipse cx="111.5" cy="439.0" rx="3.7" ry="7.0" transform="rotate(21 111.5 439.0)"/><ellipse cx="138.4" cy="460.7" rx="2.7" ry="3.6" transform="rotate(-20 138.4 460.7)"/><ellipse cx="151.9" cy="492.9" rx="3.9" ry="4.8" transform="rotate(-35 151.9 492.9)"/><ellipse cx="48.9" cy="432.1" rx="4.2" ry="7.9" transform="rotate(-17 48.9 432.1)"/><ellipse cx="117.1" cy="442.0" rx="3.7" ry="4.8" transform="rotate(31 117.1 442.0)"/><ellipse cx="31.0" cy="439.1" rx="4.8" ry="5.9" transform="rotate(-3 31.0 439.1)"/><ellipse cx="145.5" cy="513.6" rx="3.6" ry="5.3" transform="rotate(-23 145.5 513.6)"/><ellipse cx="132.5" cy="547.3" rx="4.0" ry="5.3" transform="rotate(2 132.5 547.3)"/><ellipse cx="131.8" cy="549.2" rx="4.6" ry="7.8" transform="rotate(31 131.8 549.2)"/><ellipse cx="150.8" cy="481.7" rx="4.7" ry="8.0" transform="rotate(-38 150.8 481.7)"/><ellipse cx="-4.9" cy="479.8" rx="3.6" ry="5.4" transform="rotate(-29 -4.9 479.8)"/><ellipse cx="70.0" cy="429.4" rx="4.6" ry="5.5" transform="rotate(20 70.0 429.4)"/><ellipse cx="145.7" cy="519.7" rx="4.8" ry="9.2" transform="rotate(32 145.7 519.7)"/><ellipse cx="54.6" cy="429.8" rx="3.5" ry="7.7" transform="rotate(7 54.6 429.8)"/><ellipse cx="74.8" cy="429.9" rx="3.2" ry="4.0" transform="rotate(-32 74.8 429.9)"/><ellipse cx="145.8" cy="518.3" rx="4.8" ry="7.0" transform="rotate(-19 145.8 518.3)"/><ellipse cx="116.3" cy="440.4" rx="3.4" ry="7.4" transform="rotate(31 116.3 440.4)"/><ellipse cx="147.3" cy="511.9" rx="4.8" ry="10.2" transform="rotate(4 147.3 511.9)"/></g>
<g clip-path="url(#hairclip)">
<ellipse cx="82.9" cy="479.3" rx="11.9" ry="7.3" fill="#4a2f1b" opacity=".55"/>
<ellipse cx="85.7" cy="455.9" rx="8.3" ry="5.2" fill="#4a2f1b" opacity=".55"/>
<ellipse cx="101.0" cy="481.7" rx="9.8" ry="6.7" fill="#4a2f1b" opacity=".55"/>
<ellipse cx="72.3" cy="520.8" rx="13.8" ry="6.3" fill="#4a2f1b" opacity=".55"/>
<ellipse cx="69.7" cy="469.8" rx="10.5" ry="7.0" fill="#4a2f1b" opacity=".55"/>
<ellipse cx="95.0" cy="502.0" rx="7.7" ry="9.5" fill="#4a2f1b" opacity=".55"/>
<ellipse cx="61.6" cy="488.3" rx="13.3" ry="10.0" fill="#4a2f1b" opacity=".55"/>
<ellipse cx="67.2" cy="492.6" rx="7.5" ry="5.5" fill="#4a2f1b" opacity=".55"/>
<ellipse cx="76.8" cy="498.1" rx="7.9" ry="6.3" fill="#4a2f1b" opacity=".55"/>
<ellipse cx="42.3" cy="472.0" rx="12.0" ry="7.1" fill="#4a2f1b" opacity=".55"/>
<ellipse cx="54.0" cy="502.9" rx="9.0" ry="6.7" fill="#4a2f1b" opacity=".55"/>
<ellipse cx="109.4" cy="496.0" rx="13.7" ry="5.6" fill="#4a2f1b" opacity=".55"/>
<ellipse cx="45.3" cy="487.3" rx="12.9" ry="6.1" fill="#4a2f1b" opacity=".55"/>
<ellipse cx="81.7" cy="507.8" rx="9.2" ry="7.2" fill="#4a2f1b" opacity=".55"/>
<path d="M138.3,476.3 Q146.1,488.2 133.4,491.3 Q119.4,493.8 121.6,480.9 Q117.6,467.3 130.7,468.1" stroke="#a57a4c" stroke-width="1.4" fill="none" opacity=".62"/>
<path d="M137.1,512.2 Q122.5,514.0 128.6,526.1 Q122.6,539.5 136.1,540.6 Q145.2,552.1 152.4,540.6" stroke="#a57a4c" stroke-width="1.9" fill="none" opacity=".62"/>
<path d="M126.5,519.9 Q125.8,507.3 115.0,511.8 Q104.4,505.0 101.8,516.3" stroke="#8a6038" stroke-width="1.2" fill="none" opacity=".62"/>
<path d="M126.5,469.9 Q135.5,470.2 133.0,462.3 Q131.9,453.3 124.4,457.1 Q116.1,453.5 115.6,461.8 Q108.0,466.7 114.6,471.8" stroke="#a57a4c" stroke-width="1.8" fill="none" opacity=".62"/>
<path d="M92.1,514.8 Q104.8,510.5 97.1,500.8 Q96.6,487.4 85.1,491.9 Q72.6,496.8 80.7,506.2" stroke="#8a6038" stroke-width="1.4" fill="none" opacity=".62"/>
<path d="M83.1,515.7 Q78.6,501.5 67.6,509.9 Q53.1,513.4 60.6,525.0" stroke="#7f5732" stroke-width="1.1" fill="none" opacity=".62"/>
<path d="M86.0,523.5 Q77.8,528.6 84.7,534.2 Q90.9,541.6 95.4,533.9 Q104.7,531.4 99.6,524.1 Q94.6,515.8 89.0,522.8" stroke="#a57a4c" stroke-width="1.1" fill="none" opacity=".62"/>
<path d="M50.5,490.6 Q58.7,501.0 65.1,490.6 Q71.5,479.1 59.5,477.1" stroke="#94693f" stroke-width="1.9" fill="none" opacity=".62"/>
<path d="M51.4,490.6 Q43.6,493.4 43.6,485.7 Q39.3,478.6 46.8,477.1 Q51.6,470.3 56.0,476.5 Q59.7,484.0 52.1,484.9" stroke="#8a6038" stroke-width="1.4" fill="none" opacity=".62"/>
<path d="M72.9,468.4 Q69.1,458.8 61.9,465.0 Q51.8,463.0 53.1,472.4 Q46.7,480.5 55.7,483.6 Q60.3,492.9 67.0,486.1" stroke="#a57a4c" stroke-width="1.7" fill="none" opacity=".62"/>
<path d="M132.7,498.4 Q127.4,506.6 136.2,508.7 Q139.3,517.8 146.3,512.3 Q156.0,512.3 153.1,503.9" stroke="#9d7247" stroke-width="1.4" fill="none" opacity=".62"/>
<path d="M117.1,464.3 Q108.5,474.2 119.8,478.6 Q131.1,485.3 133.5,473.4 Q144.3,466.0 134.5,458.9" stroke="#a57a4c" stroke-width="1.8" fill="none" opacity=".62"/>
<path d="M94.0,519.4 Q104.1,509.2 92.2,503.5 Q79.8,496.2 77.2,509.2" stroke="#94693f" stroke-width="1.3" fill="none" opacity=".62"/>
<path d="M22.3,500.4 Q21.9,507.3 16.1,504.8 Q9.5,506.7 9.9,500.4 Q11.2,493.7 16.7,496.9 Q23.3,498.7 19.7,503.9" stroke="#9d7247" stroke-width="1.7" fill="none" opacity=".62"/>
<path d="M56.5,443.6 Q63.0,437.4 66.4,445.0 Q75.0,447.4 70.2,454.2" stroke="#7f5732" stroke-width="1.9" fill="none" opacity=".62"/>
<path d="M55.0,507.0 Q44.8,507.6 48.4,516.2 Q53.3,525.2 59.6,518.2" stroke="#9d7247" stroke-width="1.7" fill="none" opacity=".62"/>
<path d="M87.3,449.9 Q84.2,458.6 92.8,458.6 Q99.4,465.1 103.0,457.3 Q107.8,449.4 99.4,447.7 Q93.8,440.4 89.1,447.5" stroke="#94693f" stroke-width="1.6" fill="none" opacity=".62"/>
<path d="M31.6,494.4 Q23.9,495.5 25.4,488.5 Q20.3,482.6 27.0,480.0" stroke="#94693f" stroke-width="1.4" fill="none" opacity=".62"/>
<path d="M144.9,486.3 Q152.5,484.5 148.6,478.4 Q149.8,470.6 142.7,471.9 Q134.9,470.5 136.1,477.7 Q136.7,485.5 143.4,482.6" stroke="#94693f" stroke-width="1.7" fill="none" opacity=".62"/>
<path d="M70.5,516.4 Q74.7,524.1 80.0,518.1 Q88.7,517.6 85.6,510.2" stroke="#8a6038" stroke-width="1.1" fill="none" opacity=".62"/>
<path d="M117.5,463.7 Q108.2,463.9 110.9,455.8 Q111.7,446.6 119.5,450.1 Q127.8,446.0 128.8,454.5 Q133.8,462.2 125.5,464.2" stroke="#94693f" stroke-width="1.1" fill="none" opacity=".62"/>
<path d="M21.0,497.4 Q34.4,493.9 33.4,506.6 Q43.9,515.6 32.9,522.0 Q23.4,532.2 17.5,520.8" stroke="#a57a4c" stroke-width="1.2" fill="none" opacity=".62"/>
<path d="M122.1,506.9 Q120.8,499.1 128.0,500.5 Q135.9,500.6 133.3,507.5" stroke="#9d7247" stroke-width="1.2" fill="none" opacity=".62"/>
<path d="M63.2,504.4 Q56.3,508.7 54.6,501.3 Q49.2,495.3 56.1,492.4" stroke="#9d7247" stroke-width="1.2" fill="none" opacity=".62"/>
<path d="M68.7,511.7 Q56.4,506.2 65.0,497.2 Q68.0,484.1 78.5,490.8 Q91.7,493.7 85.1,504.2" stroke="#a57a4c" stroke-width="1.1" fill="none" opacity=".62"/>
<path d="M108.4,527.1 Q116.4,533.1 119.1,524.2 Q127.1,518.3 119.5,513.2 Q113.5,505.2 108.4,512.9" stroke="#9d7247" stroke-width="1.4" fill="none" opacity=".62"/>
<path d="M137.4,495.2 Q125.1,489.7 124.1,502.1 Q124.6,515.6 136.2,511.0 Q149.6,512.5 146.8,500.3 Q154.4,489.2 142.3,486.0" stroke="#94693f" stroke-width="1.7" fill="none" opacity=".62"/>
<path d="M28.4,517.2 Q27.3,527.5 18.6,523.3 Q8.4,521.1 13.4,512.9" stroke="#7f5732" stroke-width="1.1" fill="none" opacity=".62"/>
<path d="M51.1,468.0 Q61.5,471.1 61.0,461.1 Q59.4,450.4 50.5,455.1" stroke="#94693f" stroke-width="1.3" fill="none" opacity=".62"/>
<path d="M81.3,443.7 Q72.6,454.1 66.3,443.3 Q56.5,433.9 67.6,428.3 Q77.8,419.4 82.4,431.0" stroke="#94693f" stroke-width="1.8" fill="none" opacity=".62"/>
<path d="M36.4,457.6 Q41.5,451.7 45.0,457.9 Q48.8,464.7 41.8,465.9 Q34.2,467.4 35.2,460.3 Q30.6,454.1 37.4,452.0" stroke="#8a6038" stroke-width="1.0" fill="none" opacity=".62"/>
<path d="M104.2,482.3 Q100.2,490.9 93.9,484.8 Q87.1,478.2 94.9,474.2" stroke="#94693f" stroke-width="1.6" fill="none" opacity=".62"/>
<path d="M61.5,519.0 Q62.7,508.7 53.3,510.8 Q43.0,509.9 45.4,519.2 Q42.8,529.3 52.4,528.4 Q62.7,529.7 60.7,520.3" stroke="#7f5732" stroke-width="1.5" fill="none" opacity=".62"/>
<path d="M81.7,492.8 Q75.6,506.7 89.5,507.7 Q102.6,515.5 105.3,501.7 Q118.0,493.4 106.9,484.9 Q99.9,471.4 90.3,481.7" stroke="#94693f" stroke-width="1.1" fill="none" opacity=".62"/>
<path d="M54.8,514.4 Q45.3,504.8 56.6,499.5 Q59.6,486.3 70.2,492.9" stroke="#9d7247" stroke-width="1.7" fill="none" opacity=".62"/>
<path d="M64.7,489.1 Q54.2,486.3 59.9,478.1 Q67.5,470.4 71.8,479.5" stroke="#94693f" stroke-width="1.2" fill="none" opacity=".62"/>
<path d="M126.0,485.8 Q139.6,491.9 130.1,501.9 Q118.8,511.5 113.9,498.7 Q99.5,494.7 107.4,483.4 Q107.8,468.5 120.6,473.4" stroke="#9d7247" stroke-width="1.1" fill="none" opacity=".62"/>
<path d="M107.6,473.5 Q120.9,476.1 119.1,463.6 Q120.7,450.1 108.4,452.8" stroke="#8a6038" stroke-width="1.3" fill="none" opacity=".62"/>
<path d="M107.4,495.1 Q113.8,490.7 108.0,486.5 Q102.1,481.5 99.6,488.2 Q92.3,490.8 96.8,496.4" stroke="#a57a4c" stroke-width="1.0" fill="none" opacity=".62"/>
<path d="M120.8,450.3 Q118.3,440.2 127.8,441.1 Q138.1,439.5 136.4,448.9 Q140.0,458.6 130.4,458.8" stroke="#9d7247" stroke-width="1.2" fill="none" opacity=".62"/>
<path d="M130.1,487.6 Q128.9,478.2 121.0,482.1 Q112.0,485.3 117.6,492.1" stroke="#94693f" stroke-width="1.3" fill="none" opacity=".62"/>
<path d="M43.4,487.1 Q53.7,476.1 41.0,470.6 Q38.2,455.9 26.3,462.8 Q12.0,458.3 12.5,472.2 Q9.0,486.8 22.7,485.3" stroke="#7f5732" stroke-width="1.4" fill="none" opacity=".62"/>
<path d="M70.5,498.6 Q62.9,491.1 71.7,486.7 Q79.3,479.2 83.5,488.1" stroke="#9d7247" stroke-width="1.1" fill="none" opacity=".62"/>
<path d="M60.5,509.3 Q57.5,498.1 68.2,498.9 Q79.0,494.8 79.2,505.5 Q88.0,512.9 78.8,518.3" stroke="#8a6038" stroke-width="1.6" fill="none" opacity=".62"/>
<path d="M64.1,494.0 Q56.5,493.5 58.5,500.2 Q61.6,507.2 66.7,502.3 Q74.1,503.7 73.0,496.7" stroke="#a57a4c" stroke-width="1.8" fill="none" opacity=".62"/>
<path d="M38.4,467.8 Q26.8,468.9 31.3,478.7 Q24.8,488.5 35.3,491.1" stroke="#94693f" stroke-width="1.5" fill="none" opacity=".62"/>
<path d="M53.3,504.1 Q58.4,499.6 60.7,505.4 Q62.6,512.0 56.3,511.5 Q51.4,516.3 48.8,510.6 Q42.4,508.1 46.5,503.3" stroke="#a57a4c" stroke-width="1.6" fill="none" opacity=".62"/>
<path d="M54.5,463.2 Q46.3,454.7 56.2,450.2 Q67.7,447.3 66.6,458.2 Q67.2,470.0 56.7,466.8" stroke="#7f5732" stroke-width="1.6" fill="none" opacity=".62"/>
<path d="M140.6,491.9 Q129.1,498.0 138.0,506.1 Q137.3,519.1 148.8,515.7" stroke="#8a6038" stroke-width="1.6" fill="none" opacity=".62"/>
<path d="M124.5,524.3 Q137.9,518.3 128.5,508.6 Q121.3,495.8 112.5,506.0 Q100.9,515.0 112.3,522.3 Q122.9,532.4 128.4,520.0" stroke="#a57a4c" stroke-width="1.9" fill="none" opacity=".62"/>
<path d="M62.0,538.1 Q71.5,548.8 59.2,553.8 Q52.8,566.6 43.6,557.1" stroke="#8a6038" stroke-width="1.9" fill="none" opacity=".62"/>
<path d="M79.1,460.3 Q64.9,460.1 69.4,447.8 Q70.8,433.6 82.7,439.2 Q96.4,442.9 89.0,453.7" stroke="#a57a4c" stroke-width="1.4" fill="none" opacity=".62"/>
<path d="M109.5,453.3 Q98.4,444.6 109.4,437.7 Q120.7,429.5 124.4,441.9 Q134.7,451.4 123.3,457.4 Q113.5,467.5 107.8,455.8" stroke="#a57a4c" stroke-width="1.8" fill="none" opacity=".62"/>
<path d="M86.7,496.7 Q88.7,489.8 82.0,490.1 Q77.6,484.4 73.9,490.0" stroke="#8a6038" stroke-width="1.6" fill="none" opacity=".62"/>
<path d="M43.3,457.6 Q54.2,450.7 44.7,443.3 Q34.8,435.1 30.7,446.3" stroke="#94693f" stroke-width="1.8" fill="none" opacity=".62"/>
<path d="M82.0,446.2 Q81.8,455.9 73.4,452.7 Q64.8,448.2 71.4,442.1" stroke="#94693f" stroke-width="1.7" fill="none" opacity=".62"/>
<path d="M56.0,469.5 Q59.9,475.5 53.5,477.1 Q48.1,481.9 45.6,475.8 Q38.5,474.4 41.9,468.7" stroke="#9d7247" stroke-width="1.8" fill="none" opacity=".62"/>
<path d="M134.9,503.6 Q126.5,491.8 118.8,502.8 Q104.3,502.6 108.6,515.3 Q105.9,529.5 119.2,527.5" stroke="#7f5732" stroke-width="1.5" fill="none" opacity=".62"/>
<path d="M116.8,510.6 Q115.7,504.0 121.8,505.0 Q127.2,501.0 129.1,507.0 Q135.6,508.7 132.0,513.8 Q133.1,520.5 127.0,519.4" stroke="#94693f" stroke-width="1.0" fill="none" opacity=".62"/>
<path d="M33.8,492.1 Q43.7,501.2 48.6,489.8 Q54.0,477.4 41.6,476.5 Q32.0,467.1 26.8,478.4 Q22.6,491.2 35.1,490.9" stroke="#9d7247" stroke-width="1.7" fill="none" opacity=".62"/>
<path d="M109.4,480.5 Q116.0,484.7 110.4,489.1 Q105.2,495.0 101.7,488.7 Q97.5,482.1 104.5,480.5" stroke="#9d7247" stroke-width="1.3" fill="none" opacity=".62"/>
<path d="M46.3,509.0 Q56.4,519.1 44.4,524.8 Q38.4,537.8 28.9,528.5 Q19.4,517.8 31.7,512.9" stroke="#a57a4c" stroke-width="1.2" fill="none" opacity=".62"/>
<path d="M132.1,485.4 Q133.2,500.2 120.0,496.6 Q105.3,498.4 108.3,485.1 Q112.0,470.7 123.3,478.3" stroke="#7f5732" stroke-width="1.6" fill="none" opacity=".62"/>
<path d="M78.6,468.6 Q84.0,459.9 89.9,467.2 Q98.1,473.4 90.2,478.6" stroke="#8a6038" stroke-width="1.5" fill="none" opacity=".62"/>
<path d="M73.7,534.9 Q74.2,521.2 86.0,525.8 Q99.7,527.0 94.4,538.6" stroke="#9d7247" stroke-width="1.1" fill="none" opacity=".62"/>
<path d="M66.5,510.0 Q79.3,502.1 82.2,515.7 Q95.6,522.6 85.5,532.1" stroke="#7f5732" stroke-width="1.1" fill="none" opacity=".62"/>
<path d="M101.6,512.9 Q93.1,515.8 93.2,507.5 Q87.7,500.5 95.6,497.8 Q104.3,495.5 103.7,503.7 Q107.0,512.1 98.7,512.4" stroke="#94693f" stroke-width="1.4" fill="none" opacity=".62"/>
<path d="M94.0,448.1 Q85.5,441.5 82.3,451.0 Q76.2,459.8 85.8,462.5" stroke="#7f5732" stroke-width="1.0" fill="none" opacity=".62"/>
<path d="M83.0,538.0 Q70.7,541.1 77.3,550.8 Q81.8,562.6 90.6,555.0" stroke="#a57a4c" stroke-width="1.8" fill="none" opacity=".62"/>
<path d="M57.4,452.4 Q50.8,460.4 45.8,452.2 Q36.7,447.2 43.8,440.8 Q50.4,432.7 55.4,440.9" stroke="#8a6038" stroke-width="1.2" fill="none" opacity=".62"/>
<path d="M40.5,506.2 Q28.8,508.3 30.6,497.5 Q21.8,489.5 31.5,484.3 Q41.9,478.5 43.7,489.3 Q44.7,501.2 34.1,498.4" stroke="#94693f" stroke-width="1.0" fill="none" opacity=".62"/>
<path d="M54.5,484.4 Q56.9,471.3 44.7,473.2 Q32.0,469.3 32.5,481.6" stroke="#8a6038" stroke-width="1.6" fill="none" opacity=".62"/>
<path d="M27.4,486.8 Q20.0,498.4 32.3,501.3 Q39.9,512.8 47.6,502.6 Q57.8,493.4 46.6,487.4 Q39.6,475.5 31.5,485.3" stroke="#94693f" stroke-width="1.7" fill="none" opacity=".62"/>
<path d="M40.3,462.7 Q33.4,467.9 31.0,460.4 Q29.1,452.0 37.0,453.0" stroke="#9d7247" stroke-width="1.5" fill="none" opacity=".62"/>
<path d="M108.1,508.2 Q117.7,510.7 112.5,518.3 Q114.6,527.9 105.5,526.7 Q95.9,524.5 100.8,516.8" stroke="#94693f" stroke-width="1.7" fill="none" opacity=".62"/>
<path d="M50.0,463.4 Q43.1,472.4 37.3,463.7 Q31.0,454.3 41.1,451.6 Q51.9,448.1 51.6,458.6" stroke="#7f5732" stroke-width="1.4" fill="none" opacity=".62"/>
<path d="M66.6,527.0 Q68.1,519.7 61.3,520.7 Q54.5,517.6 53.9,524.5" stroke="#9d7247" stroke-width="1.9" fill="none" opacity=".62"/>
<path d="M60.2,457.5 Q54.0,445.4 45.4,454.6 Q32.1,457.2 38.5,467.9" stroke="#7f5732" stroke-width="1.4" fill="none" opacity=".62"/>
<path d="M45.1,457.9 Q53.3,452.9 46.4,447.4 Q41.4,439.3 35.9,446.2" stroke="#9d7247" stroke-width="1.7" fill="none" opacity=".62"/>
<path d="M118.2,526.6 Q122.2,537.9 111.1,537.9 Q99.4,540.5 100.7,529.5" stroke="#9d7247" stroke-width="1.5" fill="none" opacity=".62"/>
<path d="M26.3,467.2 Q20.6,461.6 27.3,458.4 Q34.2,454.6 35.4,461.8" stroke="#8a6038" stroke-width="1.5" fill="none" opacity=".62"/>
<path d="M55.2,442.4 Q57.7,435.8 51.2,435.7 Q46.1,430.7 43.3,436.7" stroke="#94693f" stroke-width="1.7" fill="none" opacity=".62"/>
<path d="M22.6,508.4 Q15.6,517.3 10.0,508.5 Q1.1,501.6 9.8,496.0" stroke="#7f5732" stroke-width="1.4" fill="none" opacity=".62"/>
<path d="M108.5,518.7 Q105.2,508.5 115.1,508.7 Q125.0,504.3 125.8,514.2" stroke="#a57a4c" stroke-width="1.4" fill="none" opacity=".62"/>
<path d="M66.9,524.0 Q74.3,531.0 65.9,535.2 Q58.2,541.8 54.8,533.1" stroke="#94693f" stroke-width="1.0" fill="none" opacity=".62"/>
<path d="M134.3,502.7 Q146.7,493.8 150.6,507.4 Q156.4,521.5 142.3,522.1 Q132.5,533.9 125.3,521.8 Q110.6,517.7 118.7,506.1" stroke="#7f5732" stroke-width="1.6" fill="none" opacity=".62"/>
<path d="M47.6,531.0 Q38.7,527.6 44.4,520.8 Q46.3,511.4 53.9,516.0 Q63.3,517.8 58.8,525.4" stroke="#9d7247" stroke-width="1.3" fill="none" opacity=".62"/>
<path d="M99.7,460.8 Q106.2,469.5 111.7,461.1 Q118.2,452.4 108.6,449.4" stroke="#9d7247" stroke-width="1.2" fill="none" opacity=".62"/>
<path d="M74.6,471.9 Q76.9,486.8 63.2,484.2 Q48.6,480.6 56.2,469.0 Q59.5,454.3 71.3,461.8" stroke="#94693f" stroke-width="1.4" fill="none" opacity=".62"/>
<path d="M91.0,497.1 Q82.9,486.0 95.0,482.4 Q106.5,474.9 109.4,487.3 Q116.0,499.3 103.5,501.3 Q91.0,506.9 90.0,494.3" stroke="#a57a4c" stroke-width="1.8" fill="none" opacity=".62"/>
<path d="M91.4,495.1 Q91.5,483.1 101.9,487.0 Q113.0,491.5 105.7,499.8" stroke="#7f5732" stroke-width="1.7" fill="none" opacity=".62"/>
<path d="M125.8,468.4 Q122.1,459.5 115.6,465.5 Q108.6,472.1 116.5,476.1 Q119.5,485.3 126.5,479.9 Q135.6,482.9 135.4,474.0" stroke="#94693f" stroke-width="1.4" fill="none" opacity=".62"/>
<path d="M39.9,450.9 Q38.4,444.3 44.6,445.1 Q50.9,442.5 51.2,448.8" stroke="#7f5732" stroke-width="1.4" fill="none" opacity=".62"/>
<path d="M120.9,492.9 Q130.9,498.8 122.7,505.7 Q116.9,515.8 109.9,507.6 Q98.3,508.2 101.4,497.9" stroke="#7f5732" stroke-width="1.2" fill="none" opacity=".62"/>
<path d="M84.8,495.3 Q83.8,489.0 89.5,490.1 Q94.5,486.1 96.4,491.6" stroke="#7f5732" stroke-width="1.0" fill="none" opacity=".62"/>
<ellipse cx="139" cy="470" rx="3" ry="7" transform="rotate(20 139 470)" fill="#c9b3a0" opacity=".7"/>
<ellipse cx="131" cy="520" rx="3" ry="8" transform="rotate(35 131 520)" fill="#c9b3a0" opacity=".7"/>
<ellipse cx="120" cy="543" rx="6" ry="3" transform="rotate(-30 120 543)" fill="#c9b3a0" opacity=".7"/>
<ellipse cx="100" cy="452" rx="6" ry="2.5" transform="rotate(10 100 452)" fill="#c9b3a0" opacity=".7"/>
<path d="M126.0,552.0 Q55.0,542.0 -6.0,512.0" stroke="#a57a4c" stroke-width="1.4" fill="none" opacity=".62"/>
<path d="M125.8,553.2 Q54.7,545.5 -6.0,516.8" stroke="#8a6038" stroke-width="1.8" fill="none" opacity=".62"/>
<path d="M125.6,554.3 Q54.5,548.9 -6.0,521.7" stroke="#9d7247" stroke-width="1.7" fill="none" opacity=".62"/>
<path d="M125.4,555.5 Q54.2,552.4 -6.0,526.5" stroke="#8a6038" stroke-width="1.7" fill="none" opacity=".62"/>
<path d="M125.2,556.6 Q53.9,555.9 -6.0,531.4" stroke="#94693f" stroke-width="1.4" fill="none" opacity=".62"/>
<path d="M124.9,557.8 Q53.7,559.4 -6.0,536.2" stroke="#a57a4c" stroke-width="1.7" fill="none" opacity=".62"/>
<path d="M124.7,558.9 Q53.4,562.8 -6.0,541.1" stroke="#7f5732" stroke-width="1.7" fill="none" opacity=".62"/>
<path d="M124.5,560.1 Q53.2,566.3 -6.0,545.9" stroke="#9d7247" stroke-width="1.8" fill="none" opacity=".62"/>
<path d="M124.3,561.3 Q52.9,569.8 -6.0,550.7" stroke="#94693f" stroke-width="1.7" fill="none" opacity=".62"/>
<path d="M124.1,562.4 Q52.6,573.3 -6.0,555.6" stroke="#94693f" stroke-width="1.2" fill="none" opacity=".62"/>
<path d="M123.9,563.6 Q52.4,576.7 -6.0,560.4" stroke="#a57a4c" stroke-width="1.3" fill="none" opacity=".62"/>
<path d="M123.7,564.7 Q52.1,580.2 -6.0,565.3" stroke="#9d7247" stroke-width="1.4" fill="none" opacity=".62"/>
<path d="M123.5,565.9 Q51.8,583.7 -6.0,570.1" stroke="#a57a4c" stroke-width="1.3" fill="none" opacity=".62"/>
<path d="M123.3,567.1 Q51.6,587.2 -6.0,574.9" stroke="#7f5732" stroke-width="1.6" fill="none" opacity=".62"/>
<path d="M123.1,568.2 Q51.3,590.6 -6.0,579.8" stroke="#9d7247" stroke-width="1.5" fill="none" opacity=".62"/>
<path d="M122.8,569.4 Q51.1,594.1 -6.0,584.6" stroke="#a57a4c" stroke-width="1.7" fill="none" opacity=".62"/>
<path d="M122.6,570.5 Q50.8,597.6 -6.0,589.5" stroke="#7f5732" stroke-width="1.7" fill="none" opacity=".62"/>
<path d="M122.4,571.7 Q50.5,601.1 -6.0,594.3" stroke="#8a6038" stroke-width="1.9" fill="none" opacity=".62"/>
<path d="M122.2,572.8 Q50.3,604.5 -6.0,599.2" stroke="#94693f" stroke-width="1.5" fill="none" opacity=".62"/>
<path d="M122.0,574.0 Q50.0,608.0 -6.0,604.0" stroke="#8a6038" stroke-width="1.6" fill="none" opacity=".62"/>
<path d="M43.4,566.2 q26.8,-4.6 50.7,2.8 q-16.5,6.5 -30.4,8.2" stroke="#a57a4c" stroke-width="1.4" fill="none" opacity=".6"/>
<path d="M36.6,578.3 q29.7,-5.7 47.0,-0.3 q-14.9,13.1 -39.3,8.1" stroke="#a57a4c" stroke-width="1.4" fill="none" opacity=".6"/>
<path d="M71.7,557.9 q21.8,-7.1 41.4,-0.8 q-18.1,13.4 -33.6,8.7" stroke="#9d7247" stroke-width="1.4" fill="none" opacity=".6"/>
<path d="M76.7,589.6 q28.0,-8.3 40.5,6.2 q-10.3,11.5 -31.3,6.1" stroke="#94693f" stroke-width="1.4" fill="none" opacity=".6"/>
<path d="M53.2,571.7 q20.7,-6.1 49.4,7.8 q-16.3,6.5 -39.1,8.3" stroke="#9d7247" stroke-width="1.4" fill="none" opacity=".6"/>
<path d="M56.9,545.5 q20.8,-8.6 45.7,0.3 q-19.2,9.2 -37.2,5.6" stroke="#a57a4c" stroke-width="1.4" fill="none" opacity=".6"/>
<path d="M35.7,572.8 q18.0,-11.9 36.8,5.7 q-16.5,10.6 -39.6,8.7" stroke="#8a6038" stroke-width="1.4" fill="none" opacity=".6"/>
<path d="M38.8,600.9 C39.5,601.1 42.1,601.7 43.2,602.4 C44.3,603.2 45.3,604.1 45.7,605.4 C46.1,606.7 45.4,608.7 45.8,610.1 C46.2,611.4 46.7,612.5 47.8,613.4 C48.9,614.2 51.1,614.2 52.2,614.9 C53.3,615.7 54.3,616.6 54.7,617.9 C55.1,619.2 54.4,621.2 54.8,622.6 C55.2,623.9 55.7,625.0 56.8,625.9 C57.9,626.7 60.1,626.7 61.2,627.4 C62.3,628.2 63.3,629.1 63.7,630.4 C64.1,631.7 63.4,633.7 63.8,635.1 C64.2,636.4 64.7,637.5 65.8,638.4 C66.9,639.2 69.1,639.2 70.2,639.9 C71.3,640.7 72.3,641.6 72.7,642.9 C73.1,644.2 72.4,646.2 72.8,647.6 C73.2,648.9 73.7,650.0 74.8,650.9 C75.9,651.7 78.1,651.7 79.2,652.4 C80.3,653.2 81.3,654.1 81.7,655.4 C82.1,656.7 81.4,658.7 81.8,660.1 C82.2,661.4 82.7,662.5 83.8,663.4 C84.9,664.2 87.1,664.2 88.2,664.9 C89.3,665.7 90.3,666.6 90.7,667.9 C91.1,669.2 90.4,671.2 90.8,672.6 C91.2,673.9 91.7,675.0 92.8,675.9 C93.9,676.7 96.1,676.7 97.2,677.4 C98.3,678.2 99.3,679.1 99.7,680.4 C100.1,681.7 99.4,683.7 99.8,685.1 C100.2,686.4 100.7,687.5 101.8,688.4 C102.9,689.2 105.1,689.2 106.2,689.9 C107.3,690.7 108.3,691.6 108.7,692.9 C109.1,694.2 108.4,696.2 108.8,697.6 C109.2,698.9 110.5,700.3 110.8,700.9" stroke="#94693f" stroke-width="1.4" fill="none" opacity=".55"/>
<path d="M51.5,597.8 C51.6,598.6 51.7,600.8 51.8,602.3 C51.9,603.8 51.5,605.6 52.2,606.8 C52.9,607.9 54.7,608.3 56.0,609.1 C57.3,609.8 59.1,610.3 59.8,611.4 C60.5,612.5 60.0,614.4 60.1,615.9 C60.2,617.4 59.7,619.2 60.4,620.3 C61.1,621.5 63.0,621.9 64.3,622.6 C65.6,623.4 67.4,623.8 68.1,625.0 C68.8,626.1 68.3,628.0 68.4,629.5 C68.5,631.0 68.0,632.8 68.7,633.9 C69.4,635.0 71.3,635.5 72.6,636.2 C73.8,637.0 75.7,637.4 76.4,638.6 C77.1,639.7 76.6,641.6 76.7,643.0 C76.8,644.5 76.3,646.4 77.0,647.5 C77.7,648.6 79.6,649.0 80.8,649.8 C82.1,650.6 84.0,651.0 84.6,652.2 C85.3,653.3 84.8,655.1 84.9,656.6 C85.0,658.1 84.6,660.0 85.3,661.1 C86.0,662.2 87.8,662.6 89.1,663.4 C90.4,664.2 92.2,664.6 92.9,665.7 C93.6,666.9 93.1,668.7 93.2,670.2 C93.3,671.7 92.9,673.5 93.5,674.7 C94.2,675.8 96.1,676.2 97.4,677.0 C98.7,677.8 100.5,678.2 101.2,679.3 C101.9,680.5 101.4,682.3 101.5,683.8 C101.6,685.3 101.1,687.1 101.8,688.3 C102.5,689.4 104.4,689.8 105.7,690.6 C106.9,691.3 108.8,691.8 109.5,692.9 C110.2,694.0 109.7,695.9 109.8,697.4 C109.9,698.9 109.4,700.7 110.1,701.8 C110.8,703.0 112.7,703.4 114.0,704.1 C115.2,704.9 117.1,706.1 117.8,706.5" stroke="#8a6038" stroke-width="1.4" fill="none" opacity=".55"/>
<path d="M58.0,598.6 C58.9,599.3 61.9,601.5 63.4,603.2 C64.9,604.9 66.4,606.6 67.1,608.7 C67.9,610.8 67.3,613.6 67.8,615.8 C68.3,618.0 68.8,620.2 70.1,622.0 C71.4,623.8 74.0,625.0 75.5,626.7 C77.0,628.4 78.5,630.1 79.2,632.2 C80.0,634.3 79.4,637.1 79.9,639.3 C80.4,641.5 80.9,643.7 82.2,645.5 C83.5,647.3 86.1,648.5 87.6,650.1 C89.1,651.8 90.6,653.6 91.3,655.7 C92.0,657.8 91.5,660.5 92.0,662.7 C92.5,665.0 93.0,667.2 94.3,669.0 C95.6,670.8 98.2,671.9 99.7,673.6 C101.2,675.3 102.7,677.0 103.4,679.1 C104.1,681.2 103.6,684.0 104.0,686.2 C104.5,688.4 105.1,690.6 106.4,692.4 C107.7,694.2 110.3,695.4 111.8,697.1 C113.3,698.8 114.8,700.5 115.5,702.6 C116.2,704.7 115.6,707.5 116.1,709.7 C116.6,711.9 118.1,714.9 118.5,715.9" stroke="#a57a4c" stroke-width="1.4" fill="none" opacity=".55"/>
<path d="M68.9,596.9 C69.1,598.0 68.8,601.9 69.9,603.9 C71.0,605.9 73.6,607.3 75.2,609.1 C76.9,610.9 78.9,612.5 79.7,614.6 C80.5,616.8 79.6,619.6 79.8,622.1 C80.0,624.5 79.8,627.1 80.8,629.1 C81.9,631.1 84.5,632.5 86.2,634.3 C87.8,636.1 89.9,637.7 90.6,639.8 C91.4,642.0 90.6,644.8 90.8,647.3 C90.9,649.7 90.7,652.3 91.8,654.3 C92.8,656.3 95.5,657.7 97.1,659.5 C98.7,661.3 100.8,662.9 101.6,665.0 C102.3,667.2 101.5,670.0 101.7,672.5 C101.9,674.9 101.6,677.5 102.7,679.5 C103.8,681.5 106.4,682.9 108.0,684.7 C109.7,686.5 111.7,688.1 112.5,690.2 C113.3,692.4 112.4,695.2 112.6,697.7 C112.8,700.1 112.6,702.7 113.6,704.7 C114.7,706.7 117.3,708.1 119.0,709.9 C120.6,711.7 122.7,713.3 123.4,715.4 C124.2,717.6 123.5,721.6 123.6,722.9" stroke="#a57a4c" stroke-width="1.4" fill="none" opacity=".55"/>
<path d="M77.0,596.3 C77.7,597.1 79.8,599.6 81.1,601.2 C82.5,602.8 84.6,604.1 85.3,606.0 C86.0,607.9 85.2,610.3 85.2,612.4 C85.2,614.5 84.5,616.9 85.2,618.8 C85.8,620.6 87.9,622.0 89.3,623.6 C90.7,625.2 92.7,626.6 93.4,628.5 C94.1,630.3 93.4,632.7 93.4,634.8 C93.4,637.0 92.6,639.3 93.3,641.2 C94.0,643.1 96.1,644.4 97.4,646.1 C98.8,647.7 100.9,649.0 101.6,650.9 C102.3,652.8 101.5,655.2 101.5,657.3 C101.5,659.4 100.8,661.8 101.5,663.6 C102.1,665.5 104.2,666.9 105.6,668.5 C107.0,670.1 109.0,671.5 109.7,673.4 C110.4,675.2 109.7,677.6 109.7,679.7 C109.6,681.8 108.9,684.2 109.6,686.1 C110.3,688.0 112.4,689.3 113.7,690.9 C115.1,692.6 117.2,693.9 117.9,695.8 C118.6,697.7 117.8,700.0 117.8,702.2 C117.8,704.3 117.1,706.7 117.8,708.5 C118.4,710.4 120.5,711.8 121.9,713.4 C123.3,715.0 125.3,716.4 126.0,718.2 C126.7,720.1 126.0,722.5 126.0,724.6 C125.9,726.7 125.9,729.9 125.9,731.0" stroke="#9d7247" stroke-width="1.4" fill="none" opacity=".55"/>
<path d="M90.9,593.8 C90.8,594.7 90.7,597.2 90.5,598.9 C90.2,600.6 89.2,602.5 89.5,604.0 C89.9,605.5 91.6,606.7 92.7,607.9 C93.8,609.2 95.8,610.3 96.3,611.7 C96.8,613.2 96.1,615.1 95.8,616.8 C95.6,618.5 94.6,620.4 94.9,621.9 C95.3,623.4 97.0,624.6 98.1,625.9 C99.2,627.2 101.2,628.2 101.7,629.7 C102.2,631.1 101.5,633.0 101.2,634.7 C101.0,636.4 100.0,638.3 100.3,639.8 C100.7,641.4 102.4,642.5 103.5,643.8 C104.6,645.1 106.6,646.1 107.1,647.6 C107.6,649.1 106.9,650.9 106.6,652.6 C106.4,654.3 105.3,656.2 105.7,657.8 C106.1,659.3 107.7,660.4 108.9,661.7 C110.0,663.0 112.0,664.0 112.5,665.5 C113.0,667.0 112.2,668.8 112.0,670.5 C111.8,672.2 110.7,674.2 111.1,675.7 C111.5,677.2 113.1,678.3 114.3,679.6 C115.4,680.9 117.3,681.9 117.9,683.4 C118.4,684.9 117.6,686.7 117.4,688.4 C117.2,690.1 116.1,692.1 116.5,693.6 C116.9,695.1 118.5,696.2 119.7,697.5 C120.8,698.8 122.7,699.9 123.3,701.3 C123.8,702.8 123.0,704.7 122.8,706.4 C122.6,708.1 121.5,710.0 121.9,711.5 C122.3,713.0 123.9,714.2 125.0,715.4 C126.2,716.7 128.1,717.8 128.6,719.2 C129.2,720.7 128.4,722.6 128.2,724.3 C128.0,726.0 126.9,727.9 127.3,729.4 C127.6,730.9 129.3,732.1 130.4,733.4 C131.6,734.7 133.4,736.5 134.0,737.2" stroke="#a57a4c" stroke-width="1.4" fill="none" opacity=".55"/>
<path d="M101.4,592.7 C101.0,593.7 99.5,597.0 99.0,599.0 C98.6,601.0 97.9,603.1 98.6,604.9 C99.4,606.6 102.3,607.8 103.6,609.4 C105.0,611.0 106.6,612.5 106.7,614.4 C106.8,616.3 104.8,618.7 104.4,620.7 C103.9,622.7 103.2,624.8 104.0,626.6 C104.8,628.3 107.6,629.5 109.0,631.1 C110.3,632.7 111.9,634.2 112.0,636.1 C112.1,638.0 110.1,640.4 109.7,642.4 C109.2,644.5 108.5,646.5 109.3,648.3 C110.1,650.0 113.0,651.2 114.3,652.8 C115.7,654.4 117.2,655.9 117.4,657.8 C117.5,659.7 115.5,662.1 115.0,664.1 C114.6,666.2 113.9,668.3 114.6,670.0 C115.4,671.7 118.3,672.9 119.6,674.5 C121.0,676.1 122.6,677.6 122.7,679.5 C122.8,681.4 120.8,683.8 120.4,685.9 C119.9,687.9 119.2,690.0 120.0,691.7 C120.8,693.4 123.6,694.6 125.0,696.2 C126.3,697.8 127.9,699.4 128.0,701.2 C128.1,703.1 126.1,705.5 125.7,707.6 C125.2,709.6 124.5,711.7 125.3,713.4 C126.1,715.2 129.0,716.4 130.3,717.9 C131.7,719.5 133.2,721.1 133.4,723.0 C133.5,724.8 131.5,727.3 131.0,729.3 C130.6,731.3 129.9,733.4 130.6,735.1 C131.4,736.9 134.3,738.1 135.6,739.7 C137.0,741.3 138.2,743.8 138.7,744.7" stroke="#9d7247" stroke-width="1.4" fill="none" opacity=".55"/>
<path d="M107.1,592.5 C107.7,593.5 110.0,596.6 110.9,598.7 C111.8,600.8 112.4,603.0 112.4,605.3 C112.5,607.7 111.3,610.2 111.3,612.5 C111.2,614.8 111.5,617.1 112.3,619.3 C113.2,621.4 115.3,623.3 116.2,625.5 C117.0,627.6 117.6,629.8 117.7,632.1 C117.7,634.4 116.5,637.0 116.5,639.3 C116.5,641.6 116.8,643.9 117.6,646.0 C118.4,648.2 120.5,650.1 121.4,652.2 C122.3,654.4 122.9,656.6 122.9,658.9 C123.0,661.2 121.8,663.8 121.8,666.1 C121.8,668.4 122.1,670.7 122.9,672.8 C123.7,675.0 125.8,676.9 126.7,679.0 C127.6,681.2 128.1,683.4 128.2,685.7 C128.3,688.0 127.0,690.5 127.0,692.9 C127.0,695.2 127.3,697.4 128.1,699.6 C128.9,701.8 131.0,703.7 131.9,705.8 C132.8,707.9 133.4,710.2 133.5,712.5 C133.5,714.8 132.3,717.3 132.3,719.6 C132.3,722.0 132.6,724.2 133.4,726.4 C134.2,728.5 136.3,730.4 137.2,732.6 C138.1,734.7 138.7,736.9 138.7,739.2 C138.8,741.5 137.6,744.1 137.5,746.4 C137.5,748.7 138.5,752.0 138.6,753.2" stroke="#94693f" stroke-width="1.4" fill="none" opacity=".55"/>
<path d="M119.6,590.9 C119.4,592.0 118.5,595.2 118.4,597.3 C118.2,599.4 118.1,601.4 118.7,603.4 C119.3,605.4 121.0,607.2 121.7,609.1 C122.5,611.1 123.2,613.0 123.3,615.1 C123.3,617.1 122.2,619.4 122.1,621.5 C121.9,623.6 121.8,625.6 122.4,627.6 C122.9,629.6 124.7,631.4 125.4,633.3 C126.2,635.3 126.9,637.2 126.9,639.3 C127.0,641.3 125.9,643.6 125.7,645.7 C125.6,647.7 125.5,649.8 126.1,651.8 C126.6,653.8 128.4,655.6 129.1,657.5 C129.9,659.5 130.6,661.4 130.6,663.5 C130.7,665.5 129.6,667.8 129.4,669.8 C129.3,671.9 129.2,674.0 129.8,676.0 C130.3,678.0 132.0,679.8 132.8,681.7 C133.6,683.7 134.3,685.6 134.3,687.7 C134.4,689.7 133.3,692.0 133.1,694.0 C133.0,696.1 132.9,698.2 133.4,700.2 C134.0,702.2 135.7,704.0 136.5,705.9 C137.2,707.8 137.9,709.8 138.0,711.9 C138.0,713.9 136.9,716.1 136.8,718.2 C136.6,720.3 136.6,722.4 137.1,724.4 C137.7,726.3 139.4,728.1 140.2,730.1 C140.9,732.0 141.6,734.0 141.7,736.0 C141.7,738.1 140.6,740.3 140.5,742.4 C140.3,744.5 140.2,746.6 140.8,748.6 C141.4,750.5 143.1,752.3 143.8,754.3 C144.6,756.2 145.1,759.2 145.4,760.2" stroke="#7f5732" stroke-width="1.4" fill="none" opacity=".55"/>
<path d="M130.0,589.8 C129.7,591.3 128.3,596.0 128.0,599.0 C127.7,602.1 127.4,605.1 128.0,608.0 C128.7,611.0 131.0,613.7 132.0,616.6 C133.0,619.5 134.0,622.4 134.0,625.4 C134.0,628.4 132.3,631.6 132.0,634.6 C131.7,637.7 131.4,640.7 132.0,643.6 C132.7,646.6 135.0,649.3 136.0,652.2 C137.0,655.1 138.0,658.0 138.0,661.0 C138.0,664.0 136.3,667.2 136.0,670.2 C135.7,673.3 135.4,676.3 136.0,679.2 C136.7,682.2 139.0,684.9 140.0,687.8 C141.0,690.7 142.0,693.6 142.0,696.6 C142.0,699.6 140.3,702.8 140.0,705.8 C139.7,708.9 139.4,711.9 140.0,714.8 C140.7,717.8 143.0,720.5 144.0,723.4 C145.0,726.3 146.0,729.2 146.0,732.2 C146.0,735.2 144.3,738.4 144.0,741.4 C143.7,744.5 143.4,747.5 144.0,750.4 C144.7,753.4 147.0,756.1 148.0,759.0 C149.0,761.9 149.6,766.3 150.0,767.8" stroke="#7f5732" stroke-width="1.4" fill="none" opacity=".55"/>
</g>
<path d="M138,650 C142,690 150,730 147,768 M128,640 C136,690 144,720 141,760 M120,660 C130,700 136,720 137,745" stroke="#4e331d" stroke-width="1.6" fill="none" opacity=".62"/>
<!-- eye -->
<path d="M35,736 C38,720 52,704 66,703 C83,704 97,722 100,741 C100,748 95,750 88,749 L48,747 C40,747 34,743 35,736 Z" fill="#dcdce1"/>
<path d="M43,719 C52,707 62,702 70,703 C83,706 93,718 97,731" stroke="#111" stroke-width="2.2" fill="none" stroke-linecap="round"/>
<ellipse cx="78" cy="717" rx="7.5" ry="10" fill="#0c0c0c" transform="rotate(10 78 717)"/>
<path d="M58,666 C62,660 68,657 74,659 C84,663 92,671 97,679" stroke="#111" stroke-width="2.2" fill="none" stroke-linecap="round"/>
</g>
<!-- icons -->
<g stroke="#1a1a1a" stroke-width="1.3" fill="#fff" stroke-linejoin="round" stroke-linecap="round">
<!-- atom -->
<g transform="translate(255.5 539.7)">
<path fill="#fff" stroke="none" d="M0,0"/>
<ellipse rx="61" ry="26" transform="rotate(-9)"/>
<ellipse rx="63" ry="26" transform="rotate(48)" fill-opacity="1"/>
<ellipse rx="63" ry="26" transform="rotate(106)"/>
<ellipse rx="61" ry="26" transform="rotate(-9)" fill="none"/>
<ellipse rx="63" ry="26" transform="rotate(48)" fill="none"/>
<circle r="7.2"/>
<circle cx="-44" cy="-31.7" r="6.6"/>
<circle cx="52.5" cy="4.8" r="6.6"/>
<circle cx="-29.5" cy="43.3" r="6.6"/>
</g>
<!-- head with gear -->
<path fill="none" d="M200,744.5 L226,715.5 C227,703 229,692 233,680 C236,671 240,665 245,659 C250,653 256,650 262,648 C267,646 271,646 275,646 C281,646 286,647 290,649 C296,652 301,656 305,660 C309,665 312,670 313,676 C314,681 314,686 313.5,690 C313,695 312,700 310,705 C308,710 306,714 303,718 L295.5,727 L290,723.5 L267,750 L256.5,741 L229,770.5"/>
<g fill="#fbfbfb"><path d="M262.2,671.8 L259.5,664.6 L273.0,661.0 L274.2,668.5 L281.7,670.5 L286.5,664.6 L296.4,674.5 L290.5,679.3 L292.5,686.8 L300.0,688.0 L296.4,701.5 L289.2,698.8 L283.8,704.2 L286.5,711.4 L273.0,715.0 L271.8,707.5 L264.3,705.5 L259.5,711.4 L249.6,701.5 L255.5,696.7 L253.5,689.2 L246.0,688.0 L249.6,674.5 L256.8,677.2Z"/><circle cx="273" cy="688" r="11.2"/></g>
<!-- pencil (behind ruler) -->
<path d="M315,781 L415.5,831 L430,851 L405,850 L305.5,800 Z"/>
<path fill="none" d="M327.5,787.5 L319,805.5 M332.5,790 L323.5,808 M415.5,831 L406.5,849.5"/>
<!-- ruler -->
<path d="M384.5,757 L407.5,768 L351,881 L328.5,870 Z"/>
<path fill="none" d="M403.9,775.2 l-5.9,-2.8 M400.8,781.4 l-5.9,-2.8 M397.6,787.7 l-5.9,-2.8 M394.5,794.0 l-5.9,-2.8 M391.4,800.3 l-5.9,-2.8 M388.2,806.6 l-5.9,-2.8 M385.1,812.8 l-5.9,-2.8 M381.9,819.1 l-5.9,-2.8 M378.8,825.4 l-5.9,-2.8 M375.7,831.7 l-5.9,-2.8 M372.5,838.0 l-5.9,-2.8 M369.4,844.2 l-5.9,-2.8 M366.2,850.5 l-5.9,-2.8 M363.1,856.8 l-5.9,-2.8 M360.0,863.1 l-5.9,-2.8 M356.8,869.4 l-5.9,-2.8 M353.7,875.6 l-5.9,-2.8"/>
<!-- calculator squares -->
<path d="M153.5,901.5 L189.5,878 L213.5,913.5 L177.5,937 Z"/>
<path d="M194.5,874 L230,850.5 L253.5,885.5 L217.5,909 Z"/>
<path d="M181.5,942 L217,919 L240,954.5 L205,978 Z"/>
<path d="M222,915 L258,891.5 L281.5,927 L245.5,950.5 Z"/>
<path fill="none" d="M170,915 L196,898 M174.5,894 L192,919.5 M211.5,887 L236.5,870 M196,945 L226,951 M214,933.5 L208,963.5 M251,905.5 L253,935.5"/>
<!-- blackboard -->
<path d="M276,1015 L388.5,992 L406.5,1062.5 L294,1086.5 Z"/>
<path d="M284,1020 L383.5,999.5 L398.5,1057 L299.5,1078.5 Z"/>
<path d="M330,1068 L361,1061.5 L362,1064.5 L331,1071 Z"/>
<path fill="none" d="M347.5,1076 L338.5,1111 M347.5,1076 L355.5,1107.5 M347.5,1076 L373.5,1103.5"/>
</g>
<text font-family="'Liberation Sans', sans-serif" fill="#151515" rotate="-28"><tspan x="304" y="1061" font-size="23">1</tspan><tspan x="317.5" y="1049" font-size="15">+</tspan><tspan x="330.5" y="1047.5" font-size="25">2</tspan><tspan x="341.5" y="1031" font-size="17">=</tspan></text>
</svg>
<div class="hl" style="left:316px;top:86.5px;width:1226px;height:60.5px"></div>
<div class="hl" style="left:305px;top:152px;width:1237px;height:56px"></div>
<div class="abs" style="left:276px;top:210px;width:312px;height:57px;background:linear-gradient(90deg,#fb7fae 0%,#d993bd 50%,#a29bcb 100%)"></div>
<div class="abs" style="left:1541px;top:407px;width:11.5px;height:26px;background:#2b2d77"></div>
<div class="grid" style="left:849.75px"></div><div class="grid" style="left:811.95px"></div><div class="grid" style="left:774.15px"></div><div class="grid" style="left:736.35px"></div><div class="grid" style="left:698.55px"></div><div class="grid" style="left:660.75px"></div><div class="grid" style="left:622.95px"></div>
<div class="bar" style="left:605.0px;top:504.0px;width:245.0px"></div><div class="bar" style="left:606.9px;top:573.1px;width:243.1px"></div><div class="bar" style="left:621.0px;top:642.1px;width:229.0px"></div><div class="bar" style="left:632.9px;top:711.2px;width:217.1px"></div><div class="bar" style="left:657.7px;top:780.3px;width:192.3px"></div><div class="bar" style="left:684.0px;top:849.3px;width:166.0px"></div><div class="bar" style="left:692.4px;top:918.4px;width:157.6px"></div><div class="bar" style="left:709.6px;top:987.5px;width:140.4px"></div><div class="bar" style="left:709.9px;top:1056.6px;width:140.1px"></div><div class="bar" style="left:719.5px;top:1125.6px;width:130.5px"></div><div class="bar" style="left:753.8px;top:1194.7px;width:96.2px"></div><div class="bar" style="left:792.3px;top:1263.8px;width:57.7px"></div><div class="bar" style="left:796.5px;top:1332.8px;width:53.5px"></div><div class="bar" style="left:823.2px;top:1401.9px;width:26.8px"></div><div class="bar" style="left:828.2px;top:1471.0px;width:21.8px"></div>
<div class="tx" id="t1" style="left:242.86px;top:72.90px;font-size:56px;line-height:67.2px;font-weight:700;color:#fdfbe6;letter-spacing:-0.768px"><span style="color:#000">La</span> poca participación de las mujeres en procesos</div>
<div class="tx" id="t2" style="left:321.26px;top:137.90px;font-size:56px;line-height:67.2px;font-weight:700;color:#fdfbe6;letter-spacing:-0.791px">de innovación implica una pérdida de talento y</div>
<div class="tx" id="t3" style="left:280.26px;top:202.60px;font-size:56px;line-height:67.2px;font-weight:700;color:#000;letter-spacing:-0.701px"><span style="color:#fff">diversidad</span> que reduce el potencial de desarrollo</div>
<div class="tx" id="t4" style="left:795.76px;top:269.20px;font-size:56px;line-height:67.2px;font-weight:700;color:#000;letter-spacing:-0.713px">económico y social del país.</div>
<div class="tx" id="s1" style="-webkit-text-stroke:0.7px #fff;left:649.12px;top:399.13px;font-size:36px;line-height:43.2px;font-weight:400;color:#111;letter-spacing:0.983px">Porcentaje de mujeres por</div>
<div class="tx" id="s2" style="left:1106.24px;top:399.13px;font-size:36px;line-height:43.2px;font-weight:700;color:#000;letter-spacing:0.777px">sector económico</div>
<div class="tx" id="s3" style="-webkit-text-stroke:0.7px #fff;left:1428.26px;top:399.13px;font-size:36px;line-height:43.2px;font-weight:400;color:#111;letter-spacing:-0.138px">. 2021</div>
<div class="tx" id="f1" style="left:61.77px;top:1555.72px;font-size:19px;line-height:22.8px;font-weight:700;color:#111;letter-spacing:0.899px">Fuente:</div>
<div class="tx" id="f2" style="-webkit-text-stroke:0.25px #fff;left:139.48px;top:1555.72px;font-size:19px;line-height:22.8px;font-weight:400;color:#111;letter-spacing:0.478px">Elaboración propia con información de la Gran Encuesta Integrada de Hogares del DANE</div>
<div class="tx" id="g1" style="font-family:'Liberation Serif', serif;left:1342.56px;top:1534.13px;font-size:8px;line-height:9.6px;font-weight:400;color:#555;letter-spacing:0.014px">Pontificia Universidad</div>
<div class="tx" id="g2" style="font-family:'Liberation Serif', serif;left:1342.01px;top:1540.68px;font-size:14.5px;line-height:17.4px;font-weight:400;color:#3d3d3d;letter-spacing:0.324px">JAVERIANA</div>
<div class="tx" id="g3" style="font-family:'Liberation Serif', serif;left:1404.81px;top:1557.05px;font-size:6.5px;line-height:7.8px;font-weight:400;color:#555;letter-spacing:0.201px">Bogotá</div>
<div class="tx" id="g4" style="-webkit-text-stroke:0.8px #fff;transform:scaleY(1.48);transform-origin:0 30.29px;left:1442.94px;top:1534.51px;font-size:32px;line-height:38.4px;font-weight:400;color:#2a1233;letter-spacing:2.760px">LEE</div>
<div class="tx" id="g5" style="left:1516.25px;top:1535.50px;font-size:5.6px;line-height:6.72px;font-weight:400;color:#5b2a86;letter-spacing:-0.587px">LABORATORIO</div>
<div class="tx" id="g6" style="left:1515.92px;top:1541.32px;font-size:9.8px;line-height:11.76px;font-weight:400;color:#6a3a8c;letter-spacing:-0.518px">DE ECONOMÍA</div>
<div class="tx" id="g7" style="left:1516.08px;top:1551.11px;font-size:7.7px;line-height:9.24px;font-weight:400;color:#6a3a8c;letter-spacing:-0.330px">DE LA EDUCACIÓN</div>
<div class="tx" id="p0" style="-webkit-text-stroke:0.25px #fff;left:542.83px;top:509.97px;font-size:20px;line-height:24.0px;font-weight:400;color:#111;letter-spacing:0.691px">65,0%</div>
<div class="tx" id="l0a" style="-webkit-text-stroke:0.5px #fff;left:862.60px;top:506.74px;font-size:28.8px;line-height:34.56px;font-weight:400;color:#111;letter-spacing:1.209px">Alojamiento y servicios de comida</div>
<div class="tx" id="p1" style="-webkit-text-stroke:0.25px #fff;left:544.73px;top:579.04px;font-size:20px;line-height:24.0px;font-weight:400;color:#111;letter-spacing:0.691px">64,5%</div>
<div class="tx" id="l1a" style="-webkit-text-stroke:0.5px #fff;left:862.60px;top:575.24px;font-size:28.8px;line-height:34.56px;font-weight:400;color:#111;letter-spacing:1.108px">Actividades artísticas y entretenimiento</div>
<div class="tx" id="p2" style="-webkit-text-stroke:0.25px #fff;left:558.85px;top:648.11px;font-size:20px;line-height:24.0px;font-weight:400;color:#111;letter-spacing:0.691px">60,8%</div>
<div class="tx" id="l2a" style="-webkit-text-stroke:0.5px #fff;left:862.60px;top:633.34px;font-size:28.8px;line-height:34.56px;font-weight:400;color:#111;letter-spacing:1.404px">Administración pública, educación y salud</div>
<div class="tx" id="l2b" style="-webkit-text-stroke:0.5px #fff;left:862.60px;top:659.99px;font-size:28.8px;line-height:34.56px;font-weight:400;color:#111;letter-spacing:1.231px">humana</div>
<div class="tx" id="p3" style="-webkit-text-stroke:0.25px #fff;left:570.87px;top:717.18px;font-size:20px;line-height:24.0px;font-weight:400;color:#111;letter-spacing:0.641px">57,7%</div>
<div class="tx" id="l3a" style="-webkit-text-stroke:0.5px #fff;left:862.60px;top:713.74px;font-size:28.8px;line-height:34.56px;font-weight:400;color:#111;letter-spacing:1.286px">Actividades financieras y de seguros</div>
<div class="tx" id="p4" style="-webkit-text-stroke:0.25px #fff;left:595.67px;top:786.25px;font-size:20px;line-height:24.0px;font-weight:400;color:#111;letter-spacing:0.641px">51,2%</div>
<div class="tx" id="l4a" style="-webkit-text-stroke:0.5px #fff;left:862.60px;top:768.34px;font-size:28.8px;line-height:34.56px;font-weight:400;color:#111;letter-spacing:1.187px">Actividades profesionales, científicas, técnicas y</div>
<div class="tx" id="l4b" style="-webkit-text-stroke:0.5px #fff;left:862.60px;top:794.24px;font-size:28.8px;line-height:34.56px;font-weight:400;color:#111;letter-spacing:1.127px">servicios administrativos</div>
<div class="tx" id="p5" style="-webkit-text-stroke:0.25px #fff;left:622.40px;top:855.32px;font-size:20px;line-height:24.0px;font-weight:400;color:#111;letter-spacing:0.541px">44,3%</div>
<div class="tx" id="l5a" style="-webkit-text-stroke:0.5px #fff;left:862.60px;top:851.04px;font-size:28.8px;line-height:34.56px;font-weight:400;color:#111;letter-spacing:1.259px">Comercio y reparación de vehículos</div>
<div class="tx" id="p6" style="-webkit-text-stroke:0.25px #fff;left:630.79px;top:924.39px;font-size:20px;line-height:24.0px;font-weight:400;color:#111;letter-spacing:0.541px">42,1%</div>
<div class="tx" id="l6a" style="-webkit-text-stroke:0.5px #fff;left:862.60px;top:921.04px;font-size:28.8px;line-height:34.56px;font-weight:400;color:#111;letter-spacing:1.187px">Industrias manufactureras</div>
<div class="tx" id="p7" style="-webkit-text-stroke:0.25px #fff;left:647.56px;top:993.46px;font-size:20px;line-height:24.0px;font-weight:400;color:#111;letter-spacing:0.641px">37,6%</div>
<div class="tx" id="l7a" style="-webkit-text-stroke:0.5px #fff;left:862.60px;top:989.74px;font-size:28.8px;line-height:34.56px;font-weight:400;color:#111;letter-spacing:1.296px">Actividades inmobiliarias</div>
<div class="tx" id="p8" style="-webkit-text-stroke:0.25px #fff;left:647.94px;top:1062.53px;font-size:20px;line-height:24.0px;font-weight:400;color:#111;letter-spacing:0.641px">37,5%</div>
<div class="tx" id="l8a" style="-webkit-text-stroke:0.5px #fff;left:862.60px;top:1059.74px;font-size:28.8px;line-height:34.56px;font-weight:400;color:#111;letter-spacing:1.321px">Información y comunicaciones</div>
<div class="tx" id="p9" style="-webkit-text-stroke:0.25px #fff;left:657.48px;top:1131.60px;font-size:20px;line-height:24.0px;font-weight:400;color:#111;letter-spacing:0.641px">35,0%</div>
<div class="tx" id="l9a" style="-webkit-text-stroke:0.5px #fff;left:862.60px;top:1129.04px;font-size:28.8px;line-height:34.56px;font-weight:400;color:#111;letter-spacing:1.110px">No informa</div>
<div class="tx" id="p10" style="-webkit-text-stroke:0.25px #fff;left:691.61px;top:1200.67px;font-size:20px;line-height:24.0px;font-weight:400;color:#111;letter-spacing:0.691px">26,0%</div>
<div class="tx" id="l10a" style="-webkit-text-stroke:0.5px #fff;left:862.60px;top:1182.34px;font-size:28.8px;line-height:34.56px;font-weight:400;color:#111;letter-spacing:1.218px">Suministro de electricidad, gas, agua y</div>
<div class="tx" id="l10b" style="-webkit-text-stroke:0.5px #fff;left:862.60px;top:1208.34px;font-size:28.8px;line-height:34.56px;font-weight:400;color:#111;letter-spacing:1.441px">gestión de desechos</div>
<div class="tx" id="p11" style="-webkit-text-stroke:0.25px #fff;left:729.64px;top:1269.74px;font-size:20px;line-height:24.0px;font-weight:400;color:#111;letter-spacing:0.816px">15,9%</div>
<div class="tx" id="l11a" style="-webkit-text-stroke:0.5px #fff;left:862.60px;top:1267.44px;font-size:28.8px;line-height:34.56px;font-weight:400;color:#111;letter-spacing:1.218px">Explotación de minas y canteras</div>
<div class="tx" id="p12" style="-webkit-text-stroke:0.25px #fff;left:733.84px;top:1338.81px;font-size:20px;line-height:24.0px;font-weight:400;color:#111;letter-spacing:0.816px">14,8%</div>
<div class="tx" id="l12a" style="-webkit-text-stroke:0.5px #fff;left:862.60px;top:1334.24px;font-size:28.8px;line-height:34.56px;font-weight:400;color:#111;letter-spacing:1.196px">Agricultura, ganadería, caza, silvicultura y pesca</div>
<div class="tx" id="p13" style="-webkit-text-stroke:0.25px #fff;left:772.54px;top:1407.88px;font-size:20px;line-height:24.0px;font-weight:400;color:#111;letter-spacing:0.796px">7,8%</div>
<div class="tx" id="l13a" style="-webkit-text-stroke:0.5px #fff;left:862.60px;top:1403.74px;font-size:28.8px;line-height:34.56px;font-weight:400;color:#111;letter-spacing:1.231px">Transporte y almacenamiento</div>
<div class="tx" id="p14" style="-webkit-text-stroke:0.25px #fff;left:777.50px;top:1476.95px;font-size:20px;line-height:24.0px;font-weight:400;color:#111;letter-spacing:0.796px">6,5%</div>
<div class="tx" id="l14a" style="-webkit-text-stroke:0.5px #fff;left:862.60px;top:1473.14px;font-size:28.8px;line-height:34.56px;font-weight:400;color:#111;letter-spacing:1.522px">Construcción</div>
<svg class="abs" style="left:1270px;top:1505px" width="330" height="90" viewBox="1270 1505 330 90">
<g fill="none" stroke="#4a4a4a" stroke-width="0.9" stroke-linecap="round" stroke-linejoin="round">
<!-- central oval -->
<ellipse cx="1306.7" cy="1555" rx="19.2" ry="10.3" fill="#fff" stroke-width="1.2"/>
<ellipse cx="1306.7" cy="1555" rx="22" ry="13" stroke-width="0.7" stroke-dasharray="2.2 1.4"/>
<!-- tiara -->
<path d="M1300,1539 C1298,1531 1300,1523 1306.7,1520 C1313.4,1523 1315.4,1531 1313.4,1539 Z" fill="#fff"/>
<path d="M1299.6,1534.5 H1313.8 M1299.4,1530 H1314 M1300.6,1525.8 H1312.8 M1306.7,1520 V1516 M1305.2,1517.4 H1308.2"/>
<path d="M1303,1539 v-16 M1306.7,1539 v-19 M1310.4,1539 v-16" stroke-width="0.5"/>
<!-- crossed keys -->
<path d="M1288,1528 L1325,1549 M1325.4,1528 L1288.4,1549" stroke-width="2.2"/>
<path d="M1288,1528 L1325,1549 M1325.4,1528 L1288.4,1549" stroke="#fff" stroke-width="0.8"/>
<circle cx="1286" cy="1527" r="3.2"/><circle cx="1327.4" cy="1527" r="3.2"/>
<path d="M1284,1532 c3,-5 10,-7 14,-2 c-3,1 -5,4 -4,7 M1329.4,1532 c-3,-5 -10,-7 -14,-2 c3,1 5,4 4,7"/>
<path d="M1291,1534 l5,3 M1322,1534 l-5,3 M1293,1531 l5,3 M1320,1531 l-5,3" stroke-width="0.6"/>
<!-- roses ring above oval -->
<circle cx="1295" cy="1544.5" r="2.6"/><circle cx="1301" cy="1542.3" r="2.4"/><circle cx="1312.4" cy="1542.3" r="2.4"/><circle cx="1318.4" cy="1544.5" r="2.6"/><circle cx="1289.6" cy="1548" r="2.2"/><circle cx="1323.8" cy="1548" r="2.2"/>
<!-- side columns -->
<path d="M1280.5,1560 V1541 C1280.5,1538 1282,1536 1283,1534 C1284,1536 1285.5,1538 1285.5,1541 V1560 Z" fill="#fff"/>
<path d="M1328,1560 V1541 C1328,1538 1329.5,1536 1330.5,1534 C1331.5,1536 1333,1538 1333,1541 V1560 Z" fill="#fff"/>
<path d="M1279,1560 h8 M1326.5,1560 h8 M1279.5,1563 l7,-1 M1334,1563 l-7,-1 M1283,1541 v14 M1330.5,1541 v14" stroke-width="0.7"/>
<!-- bottom garland -->
<path d="M1279,1561 C1288,1566 1296,1570 1306.7,1571 C1317,1570 1326,1566 1334.5,1561"/>
<circle cx="1293.5" cy="1566.5" r="2.3"/><circle cx="1299.5" cy="1568.6" r="2"/><circle cx="1314" cy="1568.6" r="2"/><circle cx="1320" cy="1566.5" r="2.3"/>
<path d="M1303,1571 l3.7,2 l3.7,-2 M1286,1563.5 l-4,3 M1327.5,1563.5 l4,3" stroke-width="0.7"/>
<!-- cross over H -->
<path d="M1306.7,1546.5 V1552 M1305,1548.2 H1308.4" stroke-width="0.8"/>
</g>
<text x="1306.7" y="1560.2" text-anchor="middle" font-family="'Liberation Serif', serif" font-weight="700" font-size="13.5" fill="#3c3c3c" textLength="26" lengthAdjust="spacingAndGlyphs">IHS</text>
<path d="M1434.7,1527.8 V1567.7" stroke="#bdbdbd" stroke-width="1"/>
<rect x="1510.7" y="1529.8" width="46.8" height="37.2" fill="none" stroke="#cf9676" stroke-width="1"/>
</svg>
</body></html>
